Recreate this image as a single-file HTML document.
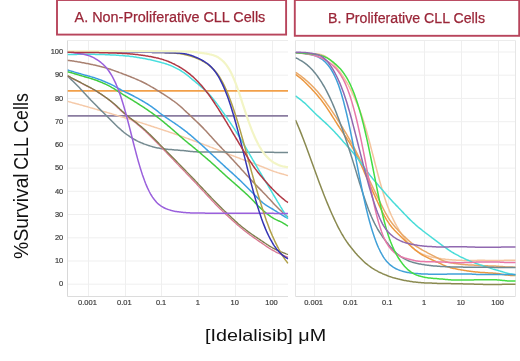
<!DOCTYPE html><html><head><meta charset="utf-8"><style>html,body{margin:0;padding:0;background:#fff;width:520px;height:361px;overflow:hidden}svg{display:block;font-family:"Liberation Sans",sans-serif}</style></head><body>
<svg width="520" height="361" viewBox="0 0 520 361" style="filter:blur(0.4px)">
<defs><clipPath id="cl"><rect x="67.5" y="40.5" width="221.0" height="256.0"/></clipPath><clipPath id="cr"><rect x="295.5" y="40.5" width="220.5" height="256.0"/></clipPath></defs>
<rect x="57.0" y="0" width="229.1" height="34.6" fill="#fff" stroke="#b8455c" stroke-width="1.9"/>
<rect x="294.8" y="0" width="224.4" height="35.8" fill="#fff" stroke="#b8455c" stroke-width="1.9"/>
<text x="74.6" y="21.6" font-size="14" fill="#9a2638" stroke="#9a2638" stroke-width="0.25" textLength="190.7" lengthAdjust="spacingAndGlyphs">A. Non-Proliferative CLL Cells</text>
<text x="328.1" y="23.1" font-size="14" fill="#9a2638" stroke="#9a2638" stroke-width="0.25" textLength="156.9" lengthAdjust="spacingAndGlyphs">B. Proliferative CLL Cells</text>
<line x1="67.5" y1="284.2" x2="288.0" y2="284.2" stroke="#efefef" stroke-width="1"/>
<line x1="67.5" y1="261.0" x2="288.0" y2="261.0" stroke="#efefef" stroke-width="1"/>
<line x1="67.5" y1="237.8" x2="288.0" y2="237.8" stroke="#efefef" stroke-width="1"/>
<line x1="67.5" y1="214.5" x2="288.0" y2="214.5" stroke="#efefef" stroke-width="1"/>
<line x1="67.5" y1="191.3" x2="288.0" y2="191.3" stroke="#efefef" stroke-width="1"/>
<line x1="67.5" y1="168.1" x2="288.0" y2="168.1" stroke="#efefef" stroke-width="1"/>
<line x1="67.5" y1="144.9" x2="288.0" y2="144.9" stroke="#efefef" stroke-width="1"/>
<line x1="67.5" y1="121.7" x2="288.0" y2="121.7" stroke="#efefef" stroke-width="1"/>
<line x1="67.5" y1="98.4" x2="288.0" y2="98.4" stroke="#efefef" stroke-width="1"/>
<line x1="67.5" y1="75.2" x2="288.0" y2="75.2" stroke="#efefef" stroke-width="1"/>
<line x1="67.5" y1="52.0" x2="288.0" y2="52.0" stroke="#efefef" stroke-width="1"/>
<line x1="88.5" y1="40.5" x2="88.5" y2="296.5" stroke="#efefef" stroke-width="1"/>
<line x1="125.5" y1="40.5" x2="125.5" y2="296.5" stroke="#efefef" stroke-width="1"/>
<line x1="161.5" y1="40.5" x2="161.5" y2="296.5" stroke="#efefef" stroke-width="1"/>
<line x1="198.5" y1="40.5" x2="198.5" y2="296.5" stroke="#efefef" stroke-width="1"/>
<line x1="235.5" y1="40.5" x2="235.5" y2="296.5" stroke="#efefef" stroke-width="1"/>
<line x1="272.5" y1="40.5" x2="272.5" y2="296.5" stroke="#efefef" stroke-width="1"/>
<line x1="67.5" y1="40.5" x2="288.0" y2="40.5" stroke="#ececec" stroke-width="1"/>
<line x1="67.5" y1="296.5" x2="288.0" y2="296.5" stroke="#dcdcdc" stroke-width="1"/>
<text x="87.5" y="305.0" font-size="8.1" fill="#3a3a3a" stroke="#3a3a3a" stroke-width="0.2" text-anchor="middle" textLength="18.8" lengthAdjust="spacingAndGlyphs">0.001</text>
<text x="124.3" y="305.0" font-size="8.1" fill="#3a3a3a" stroke="#3a3a3a" stroke-width="0.2" text-anchor="middle" textLength="14.6" lengthAdjust="spacingAndGlyphs">0.01</text>
<text x="161.1" y="305.0" font-size="8.1" fill="#3a3a3a" stroke="#3a3a3a" stroke-width="0.2" text-anchor="middle" textLength="10.4" lengthAdjust="spacingAndGlyphs">0.1</text>
<text x="197.9" y="305.0" font-size="8.1" fill="#3a3a3a" stroke="#3a3a3a" stroke-width="0.2" text-anchor="middle" textLength="4.2" lengthAdjust="spacingAndGlyphs">1</text>
<text x="234.7" y="305.0" font-size="8.1" fill="#3a3a3a" stroke="#3a3a3a" stroke-width="0.2" text-anchor="middle" textLength="8.3" lengthAdjust="spacingAndGlyphs">10</text>
<text x="271.5" y="305.0" font-size="8.1" fill="#3a3a3a" stroke="#3a3a3a" stroke-width="0.2" text-anchor="middle" textLength="12.5" lengthAdjust="spacingAndGlyphs">100</text>
<line x1="295.5" y1="284.2" x2="515.5" y2="284.2" stroke="#efefef" stroke-width="1"/>
<line x1="295.5" y1="261.0" x2="515.5" y2="261.0" stroke="#efefef" stroke-width="1"/>
<line x1="295.5" y1="237.8" x2="515.5" y2="237.8" stroke="#efefef" stroke-width="1"/>
<line x1="295.5" y1="214.5" x2="515.5" y2="214.5" stroke="#efefef" stroke-width="1"/>
<line x1="295.5" y1="191.3" x2="515.5" y2="191.3" stroke="#efefef" stroke-width="1"/>
<line x1="295.5" y1="168.1" x2="515.5" y2="168.1" stroke="#efefef" stroke-width="1"/>
<line x1="295.5" y1="144.9" x2="515.5" y2="144.9" stroke="#efefef" stroke-width="1"/>
<line x1="295.5" y1="121.7" x2="515.5" y2="121.7" stroke="#efefef" stroke-width="1"/>
<line x1="295.5" y1="98.4" x2="515.5" y2="98.4" stroke="#efefef" stroke-width="1"/>
<line x1="295.5" y1="75.2" x2="515.5" y2="75.2" stroke="#efefef" stroke-width="1"/>
<line x1="295.5" y1="52.0" x2="515.5" y2="52.0" stroke="#efefef" stroke-width="1"/>
<line x1="314.5" y1="40.5" x2="314.5" y2="296.5" stroke="#efefef" stroke-width="1"/>
<line x1="351.5" y1="40.5" x2="351.5" y2="296.5" stroke="#efefef" stroke-width="1"/>
<line x1="388.5" y1="40.5" x2="388.5" y2="296.5" stroke="#efefef" stroke-width="1"/>
<line x1="424.5" y1="40.5" x2="424.5" y2="296.5" stroke="#efefef" stroke-width="1"/>
<line x1="461.5" y1="40.5" x2="461.5" y2="296.5" stroke="#efefef" stroke-width="1"/>
<line x1="498.5" y1="40.5" x2="498.5" y2="296.5" stroke="#efefef" stroke-width="1"/>
<line x1="295.5" y1="40.5" x2="515.5" y2="40.5" stroke="#ececec" stroke-width="1"/>
<line x1="295.5" y1="296.5" x2="515.5" y2="296.5" stroke="#dcdcdc" stroke-width="1"/>
<line x1="515.5" y1="40.5" x2="515.5" y2="296.5" stroke="#e6e6e6" stroke-width="1"/>
<text x="313.6" y="305.0" font-size="8.1" fill="#3a3a3a" stroke="#3a3a3a" stroke-width="0.2" text-anchor="middle" textLength="18.8" lengthAdjust="spacingAndGlyphs">0.001</text>
<text x="350.4" y="305.0" font-size="8.1" fill="#3a3a3a" stroke="#3a3a3a" stroke-width="0.2" text-anchor="middle" textLength="14.6" lengthAdjust="spacingAndGlyphs">0.01</text>
<text x="387.2" y="305.0" font-size="8.1" fill="#3a3a3a" stroke="#3a3a3a" stroke-width="0.2" text-anchor="middle" textLength="10.4" lengthAdjust="spacingAndGlyphs">0.1</text>
<text x="424.0" y="305.0" font-size="8.1" fill="#3a3a3a" stroke="#3a3a3a" stroke-width="0.2" text-anchor="middle" textLength="4.2" lengthAdjust="spacingAndGlyphs">1</text>
<text x="460.8" y="305.0" font-size="8.1" fill="#3a3a3a" stroke="#3a3a3a" stroke-width="0.2" text-anchor="middle" textLength="8.3" lengthAdjust="spacingAndGlyphs">10</text>
<text x="497.6" y="305.0" font-size="8.1" fill="#3a3a3a" stroke="#3a3a3a" stroke-width="0.2" text-anchor="middle" textLength="12.5" lengthAdjust="spacingAndGlyphs">100</text>
<line x1="295.5" y1="40.5" x2="295.5" y2="296.5" stroke="#e4e4e4" stroke-width="1"/>
<line x1="67.5" y1="40.5" x2="67.5" y2="296.5" stroke="#d8d8d8" stroke-width="1"/>
<text x="63.2" y="286.4" font-size="8.1" fill="#3a3a3a" stroke="#3a3a3a" stroke-width="0.2" text-anchor="end" textLength="4.2" lengthAdjust="spacingAndGlyphs">0</text>
<text x="63.2" y="263.2" font-size="8.1" fill="#3a3a3a" stroke="#3a3a3a" stroke-width="0.2" text-anchor="end" textLength="8.3" lengthAdjust="spacingAndGlyphs">10</text>
<text x="63.2" y="240.0" font-size="8.1" fill="#3a3a3a" stroke="#3a3a3a" stroke-width="0.2" text-anchor="end" textLength="8.3" lengthAdjust="spacingAndGlyphs">20</text>
<text x="63.2" y="216.7" font-size="8.1" fill="#3a3a3a" stroke="#3a3a3a" stroke-width="0.2" text-anchor="end" textLength="8.3" lengthAdjust="spacingAndGlyphs">30</text>
<text x="63.2" y="193.5" font-size="8.1" fill="#3a3a3a" stroke="#3a3a3a" stroke-width="0.2" text-anchor="end" textLength="8.3" lengthAdjust="spacingAndGlyphs">40</text>
<text x="63.2" y="170.3" font-size="8.1" fill="#3a3a3a" stroke="#3a3a3a" stroke-width="0.2" text-anchor="end" textLength="8.3" lengthAdjust="spacingAndGlyphs">50</text>
<text x="63.2" y="147.1" font-size="8.1" fill="#3a3a3a" stroke="#3a3a3a" stroke-width="0.2" text-anchor="end" textLength="8.3" lengthAdjust="spacingAndGlyphs">60</text>
<text x="63.2" y="123.9" font-size="8.1" fill="#3a3a3a" stroke="#3a3a3a" stroke-width="0.2" text-anchor="end" textLength="8.3" lengthAdjust="spacingAndGlyphs">70</text>
<text x="63.2" y="100.6" font-size="8.1" fill="#3a3a3a" stroke="#3a3a3a" stroke-width="0.2" text-anchor="end" textLength="8.3" lengthAdjust="spacingAndGlyphs">80</text>
<text x="63.2" y="77.4" font-size="8.1" fill="#3a3a3a" stroke="#3a3a3a" stroke-width="0.2" text-anchor="end" textLength="8.3" lengthAdjust="spacingAndGlyphs">90</text>
<text x="63.2" y="54.2" font-size="8.1" fill="#3a3a3a" stroke="#3a3a3a" stroke-width="0.2" text-anchor="end" textLength="12.5" lengthAdjust="spacingAndGlyphs">100</text>
<g clip-path="url(#cl)">
<line x1="67.5" y1="90.8" x2="288.0" y2="90.8" stroke="#f2a04a" stroke-width="1.7"/>
<line x1="67.5" y1="115.9" x2="288.0" y2="115.9" stroke="#8a7ca0" stroke-width="1.7"/>
<path d="M67.5,101.3 L68.5,101.6 L69.5,101.9 L70.5,102.1 L71.5,102.4 L72.5,102.7 L73.5,102.9 L74.5,103.2 L75.5,103.5 L76.5,103.8 L77.5,104.0 L78.5,104.3 L79.5,104.6 L80.5,104.9 L81.5,105.1 L82.5,105.4 L83.5,105.7 L84.5,106.0 L85.5,106.3 L86.5,106.5 L87.5,106.8 L88.5,107.1 L89.5,107.4 L90.5,107.7 L91.5,107.9 L92.5,108.2 L93.5,108.5 L94.5,108.8 L95.5,109.1 L96.5,109.4 L97.5,109.7 L98.5,110.0 L99.5,110.3 L100.5,110.6 L101.5,110.9 L102.5,111.2 L103.5,111.5 L104.5,111.7 L105.5,112.0 L106.5,112.3 L107.5,112.6 L108.5,112.9 L109.5,113.2 L110.5,113.5 L111.5,113.8 L112.5,114.1 L113.5,114.4 L114.5,114.7 L115.5,115.0 L116.5,115.3 L117.5,115.6 L118.5,115.9 L119.5,116.2 L120.5,116.5 L121.5,116.8 L122.5,117.1 L123.5,117.4 L124.5,117.7 L125.5,118.0 L126.5,118.3 L127.5,118.6 L128.5,118.9 L129.5,119.2 L130.5,119.5 L131.5,119.8 L132.5,120.1 L133.5,120.4 L134.5,120.7 L135.5,121.0 L136.5,121.3 L137.5,121.7 L138.5,122.0 L139.5,122.3 L140.5,122.6 L141.5,122.9 L142.5,123.3 L143.5,123.6 L144.5,123.9 L145.5,124.2 L146.5,124.5 L147.5,124.9 L148.5,125.2 L149.5,125.5 L150.5,125.8 L151.5,126.2 L152.5,126.5 L153.5,126.8 L154.5,127.2 L155.5,127.5 L156.5,127.8 L157.5,128.1 L158.5,128.5 L159.5,128.8 L160.5,129.1 L161.5,129.5 L162.5,129.8 L163.5,130.1 L164.5,130.5 L165.5,130.8 L166.5,131.1 L167.5,131.4 L168.5,131.8 L169.5,132.1 L170.5,132.5 L171.5,132.8 L172.5,133.1 L173.5,133.5 L174.5,133.8 L175.5,134.2 L176.5,134.5 L177.5,134.9 L178.5,135.2 L179.5,135.6 L180.5,135.9 L181.5,136.3 L182.5,136.6 L183.5,137.0 L184.5,137.4 L185.5,137.7 L186.5,138.1 L187.5,138.4 L188.5,138.8 L189.5,139.2 L190.5,139.6 L191.5,139.9 L192.5,140.3 L193.5,140.7 L194.5,141.0 L195.5,141.4 L196.5,141.8 L197.5,142.2 L198.5,142.5 L199.5,142.9 L200.5,143.3 L201.5,143.6 L202.5,144.0 L203.5,144.4 L204.5,144.8 L205.5,145.1 L206.5,145.5 L207.5,145.9 L208.5,146.3 L209.5,146.7 L210.5,147.1 L211.5,147.4 L212.5,147.8 L213.5,148.2 L214.5,148.6 L215.5,149.0 L216.5,149.4 L217.5,149.8 L218.5,150.2 L219.5,150.6 L220.5,151.0 L221.5,151.4 L222.5,151.8 L223.5,152.2 L224.5,152.6 L225.5,152.9 L226.5,153.3 L227.5,153.7 L228.5,154.1 L229.5,154.5 L230.5,154.9 L231.5,155.2 L232.5,155.6 L233.5,156.0 L234.5,156.4 L235.5,156.8 L236.5,157.2 L237.5,157.5 L238.5,157.9 L239.5,158.3 L240.5,158.7 L241.5,159.1 L242.5,159.4 L243.5,159.8 L244.5,160.2 L245.5,160.5 L246.5,160.9 L247.5,161.3 L248.5,161.6 L249.5,162.0 L250.5,162.3 L251.5,162.7 L252.5,163.0 L253.5,163.4 L254.5,163.8 L255.5,164.1 L256.5,164.5 L257.5,164.9 L258.5,165.3 L259.5,165.7 L260.5,166.1 L261.5,166.5 L262.5,166.9 L263.5,167.3 L264.5,167.7 L265.5,168.1 L266.5,168.5 L267.5,168.9 L268.5,169.4 L269.5,169.8 L270.5,170.1 L271.5,170.5 L272.5,170.9 L273.5,171.2 L274.5,171.6 L275.5,171.9 L276.5,172.2 L277.5,172.6 L278.5,172.9 L279.5,173.2 L280.5,173.5 L281.5,173.8 L282.5,174.1 L283.5,174.3 L284.5,174.6 L285.5,174.9 L286.5,175.2 L287.5,175.4 L288.0,175.6" fill="none" stroke="#f5c9a8" stroke-width="1.5" stroke-linejoin="round"/>
<path d="M67.5,60.3 L68.5,60.4 L69.5,60.5 L70.5,60.7 L71.5,60.8 L72.5,61.0 L73.5,61.1 L74.5,61.3 L75.5,61.4 L76.5,61.6 L77.5,61.8 L78.5,61.9 L79.5,62.1 L80.5,62.3 L81.5,62.5 L82.5,62.7 L83.5,62.8 L84.5,63.0 L85.5,63.2 L86.5,63.4 L87.5,63.6 L88.5,63.8 L89.5,64.0 L90.5,64.2 L91.5,64.4 L92.5,64.6 L93.5,64.9 L94.5,65.1 L95.5,65.3 L96.5,65.5 L97.5,65.8 L98.5,66.0 L99.5,66.2 L100.5,66.5 L101.5,66.7 L102.5,67.0 L103.5,67.2 L104.5,67.5 L105.5,67.8 L106.5,68.1 L107.5,68.4 L108.5,68.7 L109.5,69.0 L110.5,69.3 L111.5,69.7 L112.5,70.0 L113.5,70.4 L114.5,70.7 L115.5,71.1 L116.5,71.5 L117.5,71.8 L118.5,72.2 L119.5,72.6 L120.5,72.9 L121.5,73.3 L122.5,73.7 L123.5,74.1 L124.5,74.5 L125.5,74.8 L126.5,75.2 L127.5,75.6 L128.5,76.0 L129.5,76.4 L130.5,76.8 L131.5,77.2 L132.5,77.6 L133.5,78.0 L134.5,78.4 L135.5,78.9 L136.5,79.3 L137.5,79.7 L138.5,80.1 L139.5,80.6 L140.5,81.0 L141.5,81.5 L142.5,82.0 L143.5,82.5 L144.5,83.0 L145.5,83.5 L146.5,84.0 L147.5,84.6 L148.5,85.1 L149.5,85.7 L150.5,86.3 L151.5,86.9 L152.5,87.4 L153.5,88.0 L154.5,88.6 L155.5,89.2 L156.5,89.9 L157.5,90.5 L158.5,91.1 L159.5,91.7 L160.5,92.4 L161.5,93.0 L162.5,93.6 L163.5,94.2 L164.5,94.9 L165.5,95.5 L166.5,96.2 L167.5,96.8 L168.5,97.5 L169.5,98.2 L170.5,98.9 L171.5,99.6 L172.5,100.3 L173.5,101.0 L174.5,101.7 L175.5,102.5 L176.5,103.2 L177.5,104.0 L178.5,104.8 L179.5,105.7 L180.5,106.5 L181.5,107.4 L182.5,108.3 L183.5,109.2 L184.5,110.2 L185.5,111.1 L186.5,112.1 L187.5,113.0 L188.5,113.9 L189.5,114.9 L190.5,115.8 L191.5,116.7 L192.5,117.7 L193.5,118.6 L194.5,119.6 L195.5,120.5 L196.5,121.5 L197.5,122.4 L198.5,123.4 L199.5,124.4 L200.5,125.4 L201.5,126.4 L202.5,127.4 L203.5,128.4 L204.5,129.5 L205.5,130.5 L206.5,131.6 L207.5,132.7 L208.5,133.8 L209.5,134.9 L210.5,136.0 L211.5,137.1 L212.5,138.2 L213.5,139.3 L214.5,140.4 L215.5,141.5 L216.5,142.6 L217.5,143.7 L218.5,144.8 L219.5,145.8 L220.5,146.9 L221.5,147.9 L222.5,149.0 L223.5,150.0 L224.5,151.1 L225.5,152.1 L226.5,153.2 L227.5,154.2 L228.5,155.3 L229.5,156.3 L230.5,157.4 L231.5,158.4 L232.5,159.5 L233.5,160.6 L234.5,161.7 L235.5,162.7 L236.5,163.8 L237.5,164.9 L238.5,166.0 L239.5,167.1 L240.5,168.2 L241.5,169.4 L242.5,170.5 L243.5,171.6 L244.5,172.7 L245.5,173.8 L246.5,174.9 L247.5,176.0 L248.5,177.1 L249.5,178.2 L250.5,179.3 L251.5,180.3 L252.5,181.4 L253.5,182.4 L254.5,183.5 L255.5,184.5 L256.5,185.5 L257.5,186.6 L258.5,187.6 L259.5,188.6 L260.5,189.6 L261.5,190.6 L262.5,191.7 L263.5,192.7 L264.5,193.7 L265.5,194.8 L266.5,195.8 L267.5,196.9 L268.5,198.0 L269.5,199.0 L270.5,200.1 L271.5,201.2 L272.5,202.3 L273.5,203.4 L274.5,204.5 L275.5,205.5 L276.5,206.5 L277.5,207.5 L278.5,208.5 L279.5,209.5 L280.5,210.4 L281.5,211.3 L282.5,212.2 L283.5,213.1 L284.5,214.0 L285.5,214.9 L286.5,215.8 L287.5,216.6 L288.0,217.0" fill="none" stroke="#a88070" stroke-width="1.5" stroke-linejoin="round"/>
<path d="M67.5,76.1 L68.5,77.0 L69.5,78.0 L70.5,78.9 L71.5,79.9 L72.5,80.8 L73.5,81.8 L74.5,82.8 L75.5,83.8 L76.5,84.8 L77.5,85.8 L78.5,86.8 L79.5,87.8 L80.5,88.9 L81.5,90.0 L82.5,91.1 L83.5,92.2 L84.5,93.3 L85.5,94.3 L86.5,95.4 L87.5,96.5 L88.5,97.6 L89.5,98.6 L90.5,99.7 L91.5,100.7 L92.5,101.7 L93.5,102.8 L94.5,103.8 L95.5,104.8 L96.5,105.8 L97.5,106.8 L98.5,107.9 L99.5,108.9 L100.5,109.9 L101.5,110.9 L102.5,111.8 L103.5,112.8 L104.5,113.8 L105.5,114.8 L106.5,115.8 L107.5,116.8 L108.5,117.8 L109.5,118.8 L110.5,119.8 L111.5,120.8 L112.5,121.8 L113.5,122.8 L114.5,123.8 L115.5,124.8 L116.5,125.7 L117.5,126.7 L118.5,127.6 L119.5,128.5 L120.5,129.4 L121.5,130.3 L122.5,131.1 L123.5,132.0 L124.5,132.8 L125.5,133.5 L126.5,134.3 L127.5,135.0 L128.5,135.7 L129.5,136.4 L130.5,137.1 L131.5,137.7 L132.5,138.3 L133.5,138.9 L134.5,139.5 L135.5,140.0 L136.5,140.6 L137.5,141.1 L138.5,141.6 L139.5,142.0 L140.5,142.5 L141.5,142.9 L142.5,143.3 L143.5,143.7 L144.5,144.1 L145.5,144.4 L146.5,144.8 L147.5,145.1 L148.5,145.5 L149.5,145.8 L150.5,146.1 L151.5,146.4 L152.5,146.7 L153.5,147.0 L154.5,147.2 L155.5,147.5 L156.5,147.7 L157.5,147.9 L158.5,148.1 L159.5,148.3 L160.5,148.5 L161.5,148.7 L162.5,148.8 L163.5,148.9 L164.5,149.0 L165.5,149.1 L166.5,149.2 L167.5,149.3 L168.5,149.4 L169.5,149.5 L170.5,149.6 L171.5,149.6 L172.5,149.7 L173.5,149.8 L174.5,149.9 L175.5,150.0 L176.5,150.1 L177.5,150.1 L178.5,150.2 L179.5,150.3 L180.5,150.4 L181.5,150.5 L182.5,150.6 L183.5,150.6 L184.5,150.7 L185.5,150.8 L186.5,151.0 L187.5,151.1 L188.5,151.2 L189.5,151.3 L190.5,151.4 L191.5,151.5 L192.5,151.6 L193.5,151.7 L194.5,151.7 L195.5,151.8 L196.5,151.8 L197.5,151.9 L198.5,151.9 L199.5,151.9 L200.5,152.0 L201.5,152.0 L202.5,152.0 L203.5,152.0 L204.5,152.0 L205.5,152.1 L206.5,152.1 L207.5,152.1 L208.5,152.1 L209.5,152.1 L210.5,152.1 L211.5,152.1 L212.5,152.1 L213.5,152.1 L214.5,152.1 L215.5,152.1 L216.5,152.1 L217.5,152.1 L218.5,152.1 L219.5,152.1 L220.5,152.1 L221.5,152.1 L222.5,152.1 L223.5,152.1 L224.5,152.1 L225.5,152.1 L226.5,152.1 L227.5,152.2 L228.5,152.2 L229.5,152.2 L230.5,152.2 L231.5,152.2 L232.5,152.2 L233.5,152.2 L234.5,152.2 L235.5,152.2 L236.5,152.2 L237.5,152.2 L238.5,152.2 L239.5,152.2 L240.5,152.2 L241.5,152.2 L242.5,152.2 L243.5,152.2 L244.5,152.2 L245.5,152.2 L246.5,152.2 L247.5,152.2 L248.5,152.2 L249.5,152.2 L250.5,152.2 L251.5,152.2 L252.5,152.2 L253.5,152.2 L254.5,152.2 L255.5,152.2 L256.5,152.2 L257.5,152.2 L258.5,152.2 L259.5,152.2 L260.5,152.2 L261.5,152.2 L262.5,152.2 L263.5,152.2 L264.5,152.2 L265.5,152.2 L266.5,152.2 L267.5,152.3 L268.5,152.3 L269.5,152.3 L270.5,152.3 L271.5,152.3 L272.5,152.3 L273.5,152.3 L274.5,152.4 L275.5,152.4 L276.5,152.4 L277.5,152.4 L278.5,152.4 L279.5,152.5 L280.5,152.5 L281.5,152.5 L282.5,152.5 L283.5,152.5 L284.5,152.5 L285.5,152.5 L286.5,152.5 L287.5,152.5 L288.0,152.5" fill="none" stroke="#748a90" stroke-width="1.5" stroke-linejoin="round"/>
<path d="M67.5,76.1 L68.5,76.6 L69.5,77.0 L70.5,77.5 L71.5,78.1 L72.5,78.6 L73.5,79.1 L74.5,79.6 L75.5,80.1 L76.5,80.6 L77.5,81.1 L78.5,81.7 L79.5,82.2 L80.5,82.7 L81.5,83.2 L82.5,83.8 L83.5,84.3 L84.5,84.8 L85.5,85.4 L86.5,85.9 L87.5,86.4 L88.5,86.9 L89.5,87.5 L90.5,88.0 L91.5,88.5 L92.5,89.0 L93.5,89.6 L94.5,90.2 L95.5,90.7 L96.5,91.3 L97.5,91.9 L98.5,92.6 L99.5,93.2 L100.5,93.9 L101.5,94.5 L102.5,95.2 L103.5,95.9 L104.5,96.6 L105.5,97.3 L106.5,98.0 L107.5,98.7 L108.5,99.5 L109.5,100.3 L110.5,101.1 L111.5,101.9 L112.5,102.8 L113.5,103.7 L114.5,104.6 L115.5,105.5 L116.5,106.5 L117.5,107.5 L118.5,108.4 L119.5,109.4 L120.5,110.3 L121.5,111.2 L122.5,112.1 L123.5,112.9 L124.5,113.8 L125.5,114.6 L126.5,115.5 L127.5,116.3 L128.5,117.1 L129.5,117.9 L130.5,118.8 L131.5,119.6 L132.5,120.4 L133.5,121.2 L134.5,122.0 L135.5,122.8 L136.5,123.6 L137.5,124.4 L138.5,125.2 L139.5,126.0 L140.5,126.9 L141.5,127.7 L142.5,128.6 L143.5,129.5 L144.5,130.4 L145.5,131.4 L146.5,132.3 L147.5,133.2 L148.5,134.2 L149.5,135.2 L150.5,136.2 L151.5,137.2 L152.5,138.2 L153.5,139.2 L154.5,140.2 L155.5,141.3 L156.5,142.3 L157.5,143.3 L158.5,144.4 L159.5,145.4 L160.5,146.4 L161.5,147.4 L162.5,148.5 L163.5,149.5 L164.5,150.5 L165.5,151.6 L166.5,152.6 L167.5,153.7 L168.5,154.7 L169.5,155.7 L170.5,156.8 L171.5,157.8 L172.5,158.9 L173.5,159.9 L174.5,161.0 L175.5,162.0 L176.5,163.0 L177.5,164.1 L178.5,165.1 L179.5,166.2 L180.5,167.2 L181.5,168.3 L182.5,169.3 L183.5,170.3 L184.5,171.4 L185.5,172.4 L186.5,173.5 L187.5,174.5 L188.5,175.5 L189.5,176.6 L190.5,177.6 L191.5,178.7 L192.5,179.7 L193.5,180.8 L194.5,181.8 L195.5,182.9 L196.5,183.9 L197.5,185.0 L198.5,186.1 L199.5,187.1 L200.5,188.2 L201.5,189.2 L202.5,190.3 L203.5,191.4 L204.5,192.4 L205.5,193.5 L206.5,194.6 L207.5,195.7 L208.5,196.8 L209.5,197.8 L210.5,198.9 L211.5,200.0 L212.5,201.1 L213.5,202.1 L214.5,203.1 L215.5,204.2 L216.5,205.2 L217.5,206.2 L218.5,207.2 L219.5,208.2 L220.5,209.2 L221.5,210.1 L222.5,211.1 L223.5,212.1 L224.5,213.0 L225.5,214.0 L226.5,214.9 L227.5,215.8 L228.5,216.8 L229.5,217.7 L230.5,218.6 L231.5,219.5 L232.5,220.4 L233.5,221.3 L234.5,222.2 L235.5,223.1 L236.5,224.0 L237.5,224.9 L238.5,225.8 L239.5,226.6 L240.5,227.5 L241.5,228.3 L242.5,229.1 L243.5,229.9 L244.5,230.7 L245.5,231.5 L246.5,232.3 L247.5,233.1 L248.5,233.8 L249.5,234.6 L250.5,235.3 L251.5,236.0 L252.5,236.7 L253.5,237.4 L254.5,238.1 L255.5,238.8 L256.5,239.5 L257.5,240.2 L258.5,240.9 L259.5,241.6 L260.5,242.3 L261.5,242.9 L262.5,243.6 L263.5,244.3 L264.5,245.0 L265.5,245.7 L266.5,246.4 L267.5,247.1 L268.5,247.7 L269.5,248.4 L270.5,249.0 L271.5,249.6 L272.5,250.1 L273.5,250.7 L274.5,251.2 L275.5,251.8 L276.5,252.3 L277.5,252.8 L278.5,253.2 L279.5,253.7 L280.5,254.1 L281.5,254.6 L282.5,255.0 L283.5,255.4 L284.5,255.9 L285.5,256.3 L286.5,256.7 L287.5,257.1 L288.0,257.3" fill="none" stroke="#d87890" stroke-width="1.3" stroke-linejoin="round"/>
<path d="M67.5,75.7 L68.5,76.2 L69.5,76.7 L70.5,77.2 L71.5,77.8 L72.5,78.3 L73.5,78.8 L74.5,79.3 L75.5,79.8 L76.5,80.3 L77.5,80.9 L78.5,81.4 L79.5,81.9 L80.5,82.4 L81.5,83.0 L82.5,83.5 L83.5,84.0 L84.5,84.5 L85.5,85.1 L86.5,85.6 L87.5,86.1 L88.5,86.6 L89.5,87.2 L90.5,87.7 L91.5,88.2 L92.5,88.8 L93.5,89.4 L94.5,89.9 L95.5,90.5 L96.5,91.1 L97.5,91.8 L98.5,92.4 L99.5,93.1 L100.5,93.7 L101.5,94.4 L102.5,95.1 L103.5,95.8 L104.5,96.5 L105.5,97.2 L106.5,97.9 L107.5,98.6 L108.5,99.4 L109.5,100.1 L110.5,100.9 L111.5,101.6 L112.5,102.4 L113.5,103.2 L114.5,104.1 L115.5,104.9 L116.5,105.8 L117.5,106.7 L118.5,107.7 L119.5,108.6 L120.5,109.6 L121.5,110.5 L122.5,111.4 L123.5,112.3 L124.5,113.2 L125.5,114.1 L126.5,114.9 L127.5,115.7 L128.5,116.5 L129.5,117.4 L130.5,118.2 L131.5,118.9 L132.5,119.7 L133.5,120.5 L134.5,121.3 L135.5,122.0 L136.5,122.8 L137.5,123.6 L138.5,124.4 L139.5,125.2 L140.5,126.0 L141.5,126.8 L142.5,127.7 L143.5,128.5 L144.5,129.4 L145.5,130.3 L146.5,131.2 L147.5,132.2 L148.5,133.1 L149.5,134.1 L150.5,135.0 L151.5,136.0 L152.5,137.0 L153.5,138.0 L154.5,139.0 L155.5,140.0 L156.5,141.0 L157.5,142.0 L158.5,143.0 L159.5,144.1 L160.5,145.1 L161.5,146.1 L162.5,147.1 L163.5,148.1 L164.5,149.1 L165.5,150.1 L166.5,151.1 L167.5,152.2 L168.5,153.2 L169.5,154.2 L170.5,155.2 L171.5,156.2 L172.5,157.3 L173.5,158.3 L174.5,159.3 L175.5,160.3 L176.5,161.3 L177.5,162.4 L178.5,163.4 L179.5,164.4 L180.5,165.4 L181.5,166.5 L182.5,167.5 L183.5,168.5 L184.5,169.5 L185.5,170.5 L186.5,171.6 L187.5,172.6 L188.5,173.6 L189.5,174.6 L190.5,175.7 L191.5,176.7 L192.5,177.8 L193.5,178.8 L194.5,179.8 L195.5,180.9 L196.5,181.9 L197.5,183.0 L198.5,184.1 L199.5,185.1 L200.5,186.2 L201.5,187.2 L202.5,188.3 L203.5,189.4 L204.5,190.4 L205.5,191.5 L206.5,192.6 L207.5,193.6 L208.5,194.7 L209.5,195.8 L210.5,196.8 L211.5,197.9 L212.5,198.9 L213.5,200.0 L214.5,201.0 L215.5,202.0 L216.5,203.0 L217.5,204.0 L218.5,205.0 L219.5,206.0 L220.5,207.0 L221.5,208.0 L222.5,209.0 L223.5,209.9 L224.5,210.9 L225.5,211.8 L226.5,212.8 L227.5,213.7 L228.5,214.7 L229.5,215.6 L230.5,216.5 L231.5,217.5 L232.5,218.4 L233.5,219.3 L234.5,220.2 L235.5,221.2 L236.5,222.1 L237.5,223.0 L238.5,223.9 L239.5,224.7 L240.5,225.6 L241.5,226.4 L242.5,227.2 L243.5,228.0 L244.5,228.8 L245.5,229.6 L246.5,230.4 L247.5,231.1 L248.5,231.9 L249.5,232.6 L250.5,233.3 L251.5,234.0 L252.5,234.7 L253.5,235.4 L254.5,236.1 L255.5,236.8 L256.5,237.4 L257.5,238.1 L258.5,238.8 L259.5,239.4 L260.5,240.1 L261.5,240.8 L262.5,241.4 L263.5,242.1 L264.5,242.8 L265.5,243.5 L266.5,244.1 L267.5,244.8 L268.5,245.4 L269.5,246.1 L270.5,246.6 L271.5,247.2 L272.5,247.8 L273.5,248.3 L274.5,248.8 L275.5,249.3 L276.5,249.8 L277.5,250.3 L278.5,250.7 L279.5,251.1 L280.5,251.6 L281.5,252.0 L282.5,252.4 L283.5,252.8 L284.5,253.2 L285.5,253.6 L286.5,254.0 L287.5,254.3 L288.0,254.5" fill="none" stroke="#7e7a4a" stroke-width="1.3" stroke-linejoin="round"/>
<path d="M67.5,70.0 L68.5,70.3 L69.5,70.6 L70.5,70.9 L71.5,71.2 L72.5,71.5 L73.5,71.8 L74.5,72.1 L75.5,72.4 L76.5,72.7 L77.5,73.0 L78.5,73.3 L79.5,73.6 L80.5,73.8 L81.5,74.1 L82.5,74.4 L83.5,74.7 L84.5,75.0 L85.5,75.2 L86.5,75.5 L87.5,75.8 L88.5,76.1 L89.5,76.3 L90.5,76.6 L91.5,76.9 L92.5,77.2 L93.5,77.5 L94.5,77.8 L95.5,78.1 L96.5,78.5 L97.5,78.8 L98.5,79.2 L99.5,79.5 L100.5,79.9 L101.5,80.3 L102.5,80.7 L103.5,81.1 L104.5,81.5 L105.5,82.0 L106.5,82.4 L107.5,82.8 L108.5,83.3 L109.5,83.7 L110.5,84.2 L111.5,84.7 L112.5,85.2 L113.5,85.7 L114.5,86.2 L115.5,86.8 L116.5,87.3 L117.5,87.9 L118.5,88.4 L119.5,89.0 L120.5,89.5 L121.5,90.1 L122.5,90.6 L123.5,91.1 L124.5,91.6 L125.5,92.1 L126.5,92.6 L127.5,93.0 L128.5,93.5 L129.5,94.0 L130.5,94.5 L131.5,95.0 L132.5,95.5 L133.5,96.0 L134.5,96.6 L135.5,97.1 L136.5,97.6 L137.5,98.2 L138.5,98.7 L139.5,99.3 L140.5,99.8 L141.5,100.4 L142.5,101.0 L143.5,101.6 L144.5,102.2 L145.5,102.8 L146.5,103.4 L147.5,104.0 L148.5,104.6 L149.5,105.3 L150.5,106.0 L151.5,106.6 L152.5,107.3 L153.5,108.1 L154.5,108.8 L155.5,109.6 L156.5,110.4 L157.5,111.2 L158.5,112.0 L159.5,112.8 L160.5,113.5 L161.5,114.3 L162.5,115.0 L163.5,115.7 L164.5,116.4 L165.5,117.1 L166.5,117.8 L167.5,118.5 L168.5,119.1 L169.5,119.8 L170.5,120.5 L171.5,121.2 L172.5,121.8 L173.5,122.5 L174.5,123.2 L175.5,123.9 L176.5,124.6 L177.5,125.2 L178.5,126.0 L179.5,126.7 L180.5,127.4 L181.5,128.1 L182.5,128.9 L183.5,129.6 L184.5,130.4 L185.5,131.2 L186.5,131.9 L187.5,132.7 L188.5,133.6 L189.5,134.4 L190.5,135.2 L191.5,136.0 L192.5,136.9 L193.5,137.7 L194.5,138.6 L195.5,139.5 L196.5,140.3 L197.5,141.2 L198.5,142.1 L199.5,143.0 L200.5,143.9 L201.5,144.8 L202.5,145.7 L203.5,146.6 L204.5,147.5 L205.5,148.5 L206.5,149.4 L207.5,150.4 L208.5,151.3 L209.5,152.2 L210.5,153.2 L211.5,154.1 L212.5,155.0 L213.5,156.0 L214.5,156.9 L215.5,157.8 L216.5,158.8 L217.5,159.7 L218.5,160.6 L219.5,161.5 L220.5,162.5 L221.5,163.4 L222.5,164.3 L223.5,165.2 L224.5,166.1 L225.5,167.1 L226.5,168.0 L227.5,168.9 L228.5,169.8 L229.5,170.7 L230.5,171.6 L231.5,172.4 L232.5,173.4 L233.5,174.3 L234.5,175.2 L235.5,176.1 L236.5,177.0 L237.5,178.0 L238.5,178.9 L239.5,179.9 L240.5,180.8 L241.5,181.8 L242.5,182.8 L243.5,183.7 L244.5,184.7 L245.5,185.7 L246.5,186.7 L247.5,187.7 L248.5,188.7 L249.5,189.7 L250.5,190.7 L251.5,191.8 L252.5,192.8 L253.5,193.8 L254.5,194.9 L255.5,195.9 L256.5,196.9 L257.5,197.9 L258.5,198.9 L259.5,199.8 L260.5,200.7 L261.5,201.6 L262.5,202.5 L263.5,203.3 L264.5,204.0 L265.5,204.8 L266.5,205.4 L267.5,206.1 L268.5,206.7 L269.5,207.3 L270.5,207.9 L271.5,208.5 L272.5,209.0 L273.5,209.6 L274.5,210.3 L275.5,210.9 L276.5,211.5 L277.5,212.2 L278.5,212.8 L279.5,213.4 L280.5,214.0 L281.5,214.7 L282.5,215.3 L283.5,215.9 L284.5,216.5 L285.5,217.1 L286.5,217.6 L287.5,218.2 L288.0,218.5" fill="none" stroke="#3c9ee0" stroke-width="1.5" stroke-linejoin="round"/>
<path d="M67.5,71.7 L68.5,72.0 L69.5,72.3 L70.5,72.5 L71.5,72.8 L72.5,73.1 L73.5,73.4 L74.5,73.7 L75.5,74.0 L76.5,74.3 L77.5,74.6 L78.5,74.9 L79.5,75.2 L80.5,75.5 L81.5,75.8 L82.5,76.1 L83.5,76.4 L84.5,76.7 L85.5,77.0 L86.5,77.3 L87.5,77.6 L88.5,77.8 L89.5,78.1 L90.5,78.4 L91.5,78.7 L92.5,79.0 L93.5,79.4 L94.5,79.7 L95.5,80.0 L96.5,80.4 L97.5,80.8 L98.5,81.2 L99.5,81.6 L100.5,82.0 L101.5,82.4 L102.5,82.8 L103.5,83.3 L104.5,83.7 L105.5,84.2 L106.5,84.7 L107.5,85.2 L108.5,85.7 L109.5,86.2 L110.5,86.7 L111.5,87.3 L112.5,87.9 L113.5,88.4 L114.5,89.0 L115.5,89.7 L116.5,90.3 L117.5,91.0 L118.5,91.6 L119.5,92.3 L120.5,92.9 L121.5,93.5 L122.5,94.2 L123.5,94.8 L124.5,95.4 L125.5,96.0 L126.5,96.6 L127.5,97.2 L128.5,97.8 L129.5,98.4 L130.5,99.0 L131.5,99.6 L132.5,100.2 L133.5,100.8 L134.5,101.5 L135.5,102.1 L136.5,102.7 L137.5,103.4 L138.5,104.0 L139.5,104.6 L140.5,105.3 L141.5,105.9 L142.5,106.6 L143.5,107.2 L144.5,107.9 L145.5,108.6 L146.5,109.2 L147.5,109.9 L148.5,110.6 L149.5,111.3 L150.5,112.0 L151.5,112.7 L152.5,113.4 L153.5,114.2 L154.5,114.9 L155.5,115.7 L156.5,116.4 L157.5,117.2 L158.5,118.0 L159.5,118.7 L160.5,119.5 L161.5,120.3 L162.5,121.1 L163.5,121.9 L164.5,122.8 L165.5,123.6 L166.5,124.4 L167.5,125.3 L168.5,126.1 L169.5,126.9 L170.5,127.8 L171.5,128.7 L172.5,129.5 L173.5,130.4 L174.5,131.3 L175.5,132.2 L176.5,133.0 L177.5,133.9 L178.5,134.8 L179.5,135.7 L180.5,136.6 L181.5,137.4 L182.5,138.3 L183.5,139.1 L184.5,140.0 L185.5,140.8 L186.5,141.7 L187.5,142.5 L188.5,143.3 L189.5,144.1 L190.5,144.9 L191.5,145.7 L192.5,146.5 L193.5,147.3 L194.5,148.1 L195.5,149.0 L196.5,149.8 L197.5,150.6 L198.5,151.5 L199.5,152.4 L200.5,153.2 L201.5,154.1 L202.5,155.0 L203.5,155.8 L204.5,156.7 L205.5,157.5 L206.5,158.4 L207.5,159.2 L208.5,160.1 L209.5,160.9 L210.5,161.8 L211.5,162.7 L212.5,163.6 L213.5,164.5 L214.5,165.4 L215.5,166.3 L216.5,167.2 L217.5,168.1 L218.5,169.0 L219.5,170.0 L220.5,170.9 L221.5,171.8 L222.5,172.7 L223.5,173.6 L224.5,174.5 L225.5,175.5 L226.5,176.4 L227.5,177.3 L228.5,178.1 L229.5,179.0 L230.5,179.9 L231.5,180.8 L232.5,181.7 L233.5,182.5 L234.5,183.4 L235.5,184.3 L236.5,185.1 L237.5,186.0 L238.5,186.9 L239.5,187.8 L240.5,188.7 L241.5,189.6 L242.5,190.5 L243.5,191.4 L244.5,192.3 L245.5,193.2 L246.5,194.1 L247.5,195.0 L248.5,196.0 L249.5,197.0 L250.5,198.0 L251.5,199.0 L252.5,200.0 L253.5,201.0 L254.5,202.1 L255.5,203.1 L256.5,204.1 L257.5,205.2 L258.5,206.2 L259.5,207.1 L260.5,208.1 L261.5,209.0 L262.5,209.9 L263.5,210.8 L264.5,211.7 L265.5,212.5 L266.5,213.3 L267.5,214.1 L268.5,214.9 L269.5,215.6 L270.5,216.4 L271.5,217.1 L272.5,217.7 L273.5,218.3 L274.5,218.9 L275.5,219.4 L276.5,219.9 L277.5,220.3 L278.5,220.8 L279.5,221.2 L280.5,221.7 L281.5,222.2 L282.5,222.7 L283.5,223.3 L284.5,223.9 L285.5,224.5 L286.5,225.2 L287.5,225.8 L288.0,226.2" fill="none" stroke="#40cc40" stroke-width="1.5" stroke-linejoin="round"/>
<path d="M67.5,54.4 L68.5,54.4 L69.5,54.4 L70.5,54.4 L71.5,54.4 L72.5,54.4 L73.5,54.4 L74.5,54.4 L75.5,54.4 L76.5,54.4 L77.5,54.3 L78.5,54.3 L79.5,54.3 L80.5,54.3 L81.5,54.3 L82.5,54.2 L83.5,54.2 L84.5,54.2 L85.5,54.2 L86.5,54.2 L87.5,54.2 L88.5,54.2 L89.5,54.2 L90.5,54.3 L91.5,54.3 L92.5,54.3 L93.5,54.3 L94.5,54.3 L95.5,54.4 L96.5,54.4 L97.5,54.4 L98.5,54.4 L99.5,54.5 L100.5,54.5 L101.5,54.5 L102.5,54.6 L103.5,54.6 L104.5,54.6 L105.5,54.7 L106.5,54.7 L107.5,54.8 L108.5,54.8 L109.5,54.8 L110.5,54.9 L111.5,54.9 L112.5,55.0 L113.5,55.0 L114.5,55.1 L115.5,55.1 L116.5,55.2 L117.5,55.3 L118.5,55.3 L119.5,55.4 L120.5,55.5 L121.5,55.5 L122.5,55.6 L123.5,55.7 L124.5,55.8 L125.5,55.9 L126.5,56.0 L127.5,56.0 L128.5,56.1 L129.5,56.3 L130.5,56.4 L131.5,56.5 L132.5,56.6 L133.5,56.7 L134.5,56.9 L135.5,57.0 L136.5,57.2 L137.5,57.4 L138.5,57.5 L139.5,57.7 L140.5,57.9 L141.5,58.0 L142.5,58.2 L143.5,58.4 L144.5,58.6 L145.5,58.8 L146.5,59.0 L147.5,59.2 L148.5,59.4 L149.5,59.6 L150.5,59.8 L151.5,60.0 L152.5,60.3 L153.5,60.5 L154.5,60.8 L155.5,61.0 L156.5,61.3 L157.5,61.5 L158.5,61.8 L159.5,62.0 L160.5,62.3 L161.5,62.6 L162.5,62.9 L163.5,63.1 L164.5,63.4 L165.5,63.7 L166.5,64.0 L167.5,64.4 L168.5,64.7 L169.5,65.1 L170.5,65.5 L171.5,65.9 L172.5,66.4 L173.5,66.8 L174.5,67.3 L175.5,67.8 L176.5,68.3 L177.5,68.8 L178.5,69.4 L179.5,69.9 L180.5,70.5 L181.5,71.1 L182.5,71.8 L183.5,72.4 L184.5,73.1 L185.5,73.8 L186.5,74.6 L187.5,75.4 L188.5,76.2 L189.5,77.0 L190.5,77.9 L191.5,78.7 L192.5,79.6 L193.5,80.4 L194.5,81.2 L195.5,82.0 L196.5,82.9 L197.5,83.7 L198.5,84.5 L199.5,85.4 L200.5,86.2 L201.5,87.1 L202.5,87.9 L203.5,88.8 L204.5,89.8 L205.5,90.7 L206.5,91.7 L207.5,92.7 L208.5,93.7 L209.5,94.7 L210.5,95.8 L211.5,97.0 L212.5,98.1 L213.5,99.4 L214.5,100.6 L215.5,101.9 L216.5,103.3 L217.5,104.6 L218.5,106.0 L219.5,107.4 L220.5,108.8 L221.5,110.2 L222.5,111.6 L223.5,113.0 L224.5,114.4 L225.5,115.8 L226.5,117.2 L227.5,118.7 L228.5,120.1 L229.5,121.6 L230.5,123.1 L231.5,124.6 L232.5,126.1 L233.5,127.7 L234.5,129.2 L235.5,130.8 L236.5,132.4 L237.5,134.0 L238.5,135.6 L239.5,137.2 L240.5,138.8 L241.5,140.5 L242.5,142.2 L243.5,143.8 L244.5,145.5 L245.5,147.2 L246.5,148.9 L247.5,150.6 L248.5,152.4 L249.5,154.1 L250.5,155.8 L251.5,157.5 L252.5,159.3 L253.5,161.0 L254.5,162.7 L255.5,164.5 L256.5,166.2 L257.5,167.9 L258.5,169.6 L259.5,171.3 L260.5,173.0 L261.5,174.7 L262.5,176.4 L263.5,178.0 L264.5,179.7 L265.5,181.4 L266.5,183.0 L267.5,184.7 L268.5,186.4 L269.5,188.0 L270.5,189.7 L271.5,191.4 L272.5,193.1 L273.5,194.8 L274.5,196.5 L275.5,198.2 L276.5,199.9 L277.5,201.6 L278.5,203.2 L279.5,204.9 L280.5,206.6 L281.5,208.2 L282.5,209.9 L283.5,211.5 L284.5,213.1 L285.5,214.7 L286.5,216.3 L287.5,217.9 L288.0,218.7" fill="none" stroke="#48dede" stroke-width="1.5" stroke-linejoin="round"/>
<path d="M67.5,52.1 L68.5,52.2 L69.5,52.3 L70.5,52.3 L71.5,52.4 L72.5,52.6 L73.5,52.7 L74.5,52.8 L75.5,52.9 L76.5,53.1 L77.5,53.2 L78.5,53.4 L79.5,53.5 L80.5,53.7 L81.5,53.9 L82.5,54.1 L83.5,54.3 L84.5,54.5 L85.5,54.7 L86.5,55.0 L87.5,55.3 L88.5,55.6 L89.5,55.9 L90.5,56.3 L91.5,56.7 L92.5,57.2 L93.5,57.7 L94.5,58.2 L95.5,58.8 L96.5,59.4 L97.5,60.0 L98.5,60.7 L99.5,61.4 L100.5,62.2 L101.5,63.0 L102.5,63.8 L103.5,64.8 L104.5,65.8 L105.5,66.8 L106.5,68.0 L107.5,69.2 L108.5,70.5 L109.5,72.0 L110.5,73.5 L111.5,75.1 L112.5,76.9 L113.5,78.8 L114.5,80.8 L115.5,82.9 L116.5,85.2 L117.5,87.7 L118.5,90.2 L119.5,93.0 L120.5,95.8 L121.5,98.8 L122.5,102.0 L123.5,105.3 L124.5,108.7 L125.5,112.3 L126.5,115.9 L127.5,119.7 L128.5,123.5 L129.5,127.4 L130.5,131.3 L131.5,135.3 L132.5,139.2 L133.5,143.2 L134.5,147.1 L135.5,150.9 L136.5,154.7 L137.5,158.4 L138.5,162.0 L139.5,165.4 L140.5,168.7 L141.5,171.9 L142.5,175.0 L143.5,177.8 L144.5,180.6 L145.5,183.2 L146.5,185.6 L147.5,187.9 L148.5,190.0 L149.5,192.0 L150.5,193.8 L151.5,195.5 L152.5,197.1 L153.5,198.5 L154.5,199.8 L155.5,201.0 L156.5,202.2 L157.5,203.2 L158.5,204.1 L159.5,204.9 L160.5,205.6 L161.5,206.3 L162.5,206.9 L163.5,207.5 L164.5,208.0 L165.5,208.5 L166.5,208.9 L167.5,209.3 L168.5,209.6 L169.5,209.9 L170.5,210.2 L171.5,210.5 L172.5,210.7 L173.5,211.0 L174.5,211.2 L175.5,211.4 L176.5,211.5 L177.5,211.7 L178.5,211.8 L179.5,212.0 L180.5,212.1 L181.5,212.2 L182.5,212.3 L183.5,212.4 L184.5,212.5 L185.5,212.6 L186.5,212.7 L187.5,212.7 L188.5,212.8 L189.5,212.8 L190.5,212.9 L191.5,212.9 L192.5,212.9 L193.5,213.0 L194.5,213.0 L195.5,213.0 L196.5,213.0 L197.5,213.1 L198.5,213.1 L199.5,213.1 L200.5,213.1 L201.5,213.1 L202.5,213.1 L203.5,213.1 L204.5,213.1 L205.5,213.2 L206.5,213.2 L207.5,213.2 L208.5,213.2 L209.5,213.2 L210.5,213.2 L211.5,213.2 L212.5,213.2 L213.5,213.2 L214.5,213.2 L215.5,213.2 L216.5,213.2 L217.5,213.2 L218.5,213.2 L219.5,213.2 L220.5,213.2 L221.5,213.2 L222.5,213.2 L223.5,213.2 L224.5,213.2 L225.5,213.2 L226.5,213.2 L227.5,213.2 L228.5,213.2 L229.5,213.2 L230.5,213.2 L231.5,213.2 L232.5,213.2 L233.5,213.2 L234.5,213.2 L235.5,213.2 L236.5,213.2 L237.5,213.2 L238.5,213.2 L239.5,213.2 L240.5,213.2 L241.5,213.2 L242.5,213.2 L243.5,213.2 L244.5,213.2 L245.5,213.2 L246.5,213.2 L247.5,213.2 L248.5,213.2 L249.5,213.2 L250.5,213.2 L251.5,213.2 L252.5,213.2 L253.5,213.2 L254.5,213.2 L255.5,213.2 L256.5,213.2 L257.5,213.2 L258.5,213.2 L259.5,213.2 L260.5,213.2 L261.5,213.2 L262.5,213.2 L263.5,213.2 L264.5,213.2 L265.5,213.2 L266.5,213.3 L267.5,213.3 L268.5,213.3 L269.5,213.3 L270.5,213.3 L271.5,213.3 L272.5,213.3 L273.5,213.3 L274.5,213.4 L275.5,213.4 L276.5,213.4 L277.5,213.4 L278.5,213.4 L279.5,213.5 L280.5,213.5 L281.5,213.5 L282.5,213.5 L283.5,213.5 L284.5,213.5 L285.5,213.5 L286.5,213.5 L287.5,213.5 L288.0,213.5" fill="none" stroke="#9a60dc" stroke-width="1.5" stroke-linejoin="round"/>
<path d="M67.5,52.3 L68.5,52.3 L69.5,52.3 L70.5,52.3 L71.5,52.3 L72.5,52.3 L73.5,52.3 L74.5,52.3 L75.5,52.3 L76.5,52.3 L77.5,52.3 L78.5,52.3 L79.5,52.3 L80.5,52.3 L81.5,52.3 L82.5,52.3 L83.5,52.3 L84.5,52.3 L85.5,52.3 L86.5,52.3 L87.5,52.3 L88.5,52.3 L89.5,52.3 L90.5,52.3 L91.5,52.3 L92.5,52.3 L93.5,52.3 L94.5,52.3 L95.5,52.3 L96.5,52.3 L97.5,52.3 L98.5,52.3 L99.5,52.3 L100.5,52.3 L101.5,52.3 L102.5,52.3 L103.5,52.3 L104.5,52.3 L105.5,52.3 L106.5,52.3 L107.5,52.3 L108.5,52.3 L109.5,52.3 L110.5,52.3 L111.5,52.3 L112.5,52.3 L113.5,52.3 L114.5,52.3 L115.5,52.3 L116.5,52.3 L117.5,52.3 L118.5,52.3 L119.5,52.3 L120.5,52.3 L121.5,52.3 L122.5,52.3 L123.5,52.3 L124.5,52.3 L125.5,52.3 L126.5,52.3 L127.5,52.3 L128.5,52.3 L129.5,52.3 L130.5,52.3 L131.5,52.3 L132.5,52.3 L133.5,52.3 L134.5,52.3 L135.5,52.3 L136.5,52.3 L137.5,52.3 L138.5,52.3 L139.5,52.3 L140.5,52.3 L141.5,52.3 L142.5,52.3 L143.5,52.3 L144.5,52.3 L145.5,52.3 L146.5,52.3 L147.5,52.3 L148.5,52.3 L149.5,52.3 L150.5,52.3 L151.5,52.3 L152.5,52.4 L153.5,52.4 L154.5,52.4 L155.5,52.4 L156.5,52.4 L157.5,52.4 L158.5,52.5 L159.5,52.5 L160.5,52.5 L161.5,52.5 L162.5,52.6 L163.5,52.6 L164.5,52.7 L165.5,52.7 L166.5,52.7 L167.5,52.8 L168.5,52.8 L169.5,52.9 L170.5,52.9 L171.5,53.0 L172.5,53.0 L173.5,53.1 L174.5,53.2 L175.5,53.2 L176.5,53.3 L177.5,53.4 L178.5,53.5 L179.5,53.6 L180.5,53.8 L181.5,53.9 L182.5,54.1 L183.5,54.3 L184.5,54.5 L185.5,54.8 L186.5,55.0 L187.5,55.3 L188.5,55.5 L189.5,55.8 L190.5,56.1 L191.5,56.4 L192.5,56.8 L193.5,57.1 L194.5,57.4 L195.5,57.8 L196.5,58.2 L197.5,58.6 L198.5,59.0 L199.5,59.5 L200.5,59.9 L201.5,60.4 L202.5,61.0 L203.5,61.6 L204.5,62.2 L205.5,62.8 L206.5,63.5 L207.5,64.2 L208.5,64.9 L209.5,65.7 L210.5,66.6 L211.5,67.4 L212.5,68.3 L213.5,69.3 L214.5,70.4 L215.5,71.5 L216.5,72.7 L217.5,74.0 L218.5,75.5 L219.5,77.0 L220.5,78.7 L221.5,80.4 L222.5,82.2 L223.5,84.2 L224.5,86.2 L225.5,88.3 L226.5,90.6 L227.5,92.9 L228.5,95.3 L229.5,97.9 L230.5,100.5 L231.5,103.2 L232.5,106.0 L233.5,108.9 L234.5,111.9 L235.5,115.0 L236.5,118.2 L237.5,121.4 L238.5,124.7 L239.5,128.1 L240.5,131.6 L241.5,135.1 L242.5,138.7 L243.5,142.3 L244.5,146.0 L245.5,149.6 L246.5,153.3 L247.5,157.0 L248.5,160.7 L249.5,164.3 L250.5,168.0 L251.5,171.6 L252.5,175.1 L253.5,178.7 L254.5,182.2 L255.5,185.7 L256.5,189.2 L257.5,192.6 L258.5,196.0 L259.5,199.3 L260.5,202.6 L261.5,205.8 L262.5,209.0 L263.5,212.1 L264.5,215.1 L265.5,218.0 L266.5,220.9 L267.5,223.6 L268.5,226.3 L269.5,228.9 L270.5,231.4 L271.5,233.7 L272.5,236.1 L273.5,238.3 L274.5,240.5 L275.5,242.6 L276.5,244.6 L277.5,246.6 L278.5,248.5 L279.5,250.3 L280.5,252.1 L281.5,253.9 L282.5,255.5 L283.5,257.1 L284.5,258.6 L285.5,260.1 L286.5,261.4 L287.5,262.7 L288.0,263.4" fill="none" stroke="#b0a048" stroke-width="1.5" stroke-linejoin="round"/>
<path d="M67.5,52.3 L68.5,52.3 L69.5,52.3 L70.5,52.3 L71.5,52.3 L72.5,52.3 L73.5,52.3 L74.5,52.3 L75.5,52.3 L76.5,52.3 L77.5,52.3 L78.5,52.3 L79.5,52.3 L80.5,52.3 L81.5,52.3 L82.5,52.3 L83.5,52.3 L84.5,52.3 L85.5,52.3 L86.5,52.3 L87.5,52.3 L88.5,52.3 L89.5,52.3 L90.5,52.3 L91.5,52.3 L92.5,52.3 L93.5,52.3 L94.5,52.3 L95.5,52.3 L96.5,52.3 L97.5,52.3 L98.5,52.3 L99.5,52.3 L100.5,52.3 L101.5,52.3 L102.5,52.3 L103.5,52.3 L104.5,52.3 L105.5,52.3 L106.5,52.3 L107.5,52.3 L108.5,52.3 L109.5,52.3 L110.5,52.3 L111.5,52.3 L112.5,52.3 L113.5,52.3 L114.5,52.3 L115.5,52.3 L116.5,52.3 L117.5,52.3 L118.5,52.3 L119.5,52.3 L120.5,52.3 L121.5,52.3 L122.5,52.3 L123.5,52.3 L124.5,52.3 L125.5,52.3 L126.5,52.3 L127.5,52.3 L128.5,52.3 L129.5,52.3 L130.5,52.3 L131.5,52.3 L132.5,52.3 L133.5,52.3 L134.5,52.3 L135.5,52.3 L136.5,52.3 L137.5,52.3 L138.5,52.3 L139.5,52.3 L140.5,52.3 L141.5,52.3 L142.5,52.3 L143.5,52.3 L144.5,52.3 L145.5,52.3 L146.5,52.3 L147.5,52.3 L148.5,52.3 L149.5,52.3 L150.5,52.3 L151.5,52.3 L152.5,52.4 L153.5,52.4 L154.5,52.4 L155.5,52.4 L156.5,52.4 L157.5,52.4 L158.5,52.5 L159.5,52.5 L160.5,52.5 L161.5,52.5 L162.5,52.6 L163.5,52.6 L164.5,52.6 L165.5,52.7 L166.5,52.7 L167.5,52.7 L168.5,52.7 L169.5,52.7 L170.5,52.7 L171.5,52.7 L172.5,52.7 L173.5,52.8 L174.5,52.8 L175.5,52.8 L176.5,52.9 L177.5,52.9 L178.5,53.0 L179.5,53.1 L180.5,53.2 L181.5,53.3 L182.5,53.4 L183.5,53.6 L184.5,53.7 L185.5,53.9 L186.5,54.1 L187.5,54.4 L188.5,54.6 L189.5,54.9 L190.5,55.2 L191.5,55.5 L192.5,55.9 L193.5,56.3 L194.5,56.7 L195.5,57.1 L196.5,57.5 L197.5,57.9 L198.5,58.4 L199.5,58.9 L200.5,59.4 L201.5,59.9 L202.5,60.5 L203.5,61.0 L204.5,61.7 L205.5,62.3 L206.5,63.0 L207.5,63.7 L208.5,64.5 L209.5,65.4 L210.5,66.3 L211.5,67.3 L212.5,68.4 L213.5,69.5 L214.5,70.8 L215.5,72.1 L216.5,73.5 L217.5,75.1 L218.5,76.7 L219.5,78.5 L220.5,80.3 L221.5,82.3 L222.5,84.4 L223.5,86.6 L224.5,88.9 L225.5,91.3 L226.5,93.9 L227.5,96.5 L228.5,99.3 L229.5,102.2 L230.5,105.3 L231.5,108.4 L232.5,111.7 L233.5,115.0 L234.5,118.5 L235.5,122.0 L236.5,125.6 L237.5,129.4 L238.5,133.1 L239.5,137.0 L240.5,140.9 L241.5,144.8 L242.5,148.8 L243.5,152.8 L244.5,156.9 L245.5,160.9 L246.5,164.9 L247.5,168.9 L248.5,172.9 L249.5,176.9 L250.5,180.8 L251.5,184.6 L252.5,188.4 L253.5,192.2 L254.5,195.8 L255.5,199.4 L256.5,202.8 L257.5,206.2 L258.5,209.4 L259.5,212.6 L260.5,215.6 L261.5,218.5 L262.5,221.2 L263.5,223.9 L264.5,226.4 L265.5,228.9 L266.5,231.2 L267.5,233.4 L268.5,235.5 L269.5,237.5 L270.5,239.4 L271.5,241.2 L272.5,243.0 L273.5,244.6 L274.5,246.1 L275.5,247.5 L276.5,248.9 L277.5,250.1 L278.5,251.2 L279.5,252.3 L280.5,253.3 L281.5,254.2 L282.5,255.1 L283.5,255.8 L284.5,256.6 L285.5,257.3 L286.5,257.9 L287.5,258.5 L288.0,258.8" fill="none" stroke="#3434b4" stroke-width="1.5" stroke-linejoin="round"/>
<path d="M67.5,51.4 L68.5,51.4 L69.5,51.4 L70.5,51.4 L71.5,51.4 L72.5,51.4 L73.5,51.4 L74.5,51.4 L75.5,51.4 L76.5,51.4 L77.5,51.4 L78.5,51.4 L79.5,51.4 L80.5,51.4 L81.5,51.4 L82.5,51.4 L83.5,51.4 L84.5,51.4 L85.5,51.4 L86.5,51.4 L87.5,51.4 L88.5,51.4 L89.5,51.4 L90.5,51.4 L91.5,51.4 L92.5,51.4 L93.5,51.4 L94.5,51.4 L95.5,51.4 L96.5,51.4 L97.5,51.4 L98.5,51.4 L99.5,51.4 L100.5,51.4 L101.5,51.4 L102.5,51.4 L103.5,51.4 L104.5,51.4 L105.5,51.4 L106.5,51.4 L107.5,51.4 L108.5,51.4 L109.5,51.4 L110.5,51.4 L111.5,51.4 L112.5,51.4 L113.5,51.4 L114.5,51.4 L115.5,51.4 L116.5,51.4 L117.5,51.4 L118.5,51.4 L119.5,51.4 L120.5,51.4 L121.5,51.4 L122.5,51.4 L123.5,51.4 L124.5,51.4 L125.5,51.4 L126.5,51.4 L127.5,51.4 L128.5,51.4 L129.5,51.4 L130.5,51.4 L131.5,51.4 L132.5,51.4 L133.5,51.4 L134.5,51.4 L135.5,51.4 L136.5,51.4 L137.5,51.4 L138.5,51.4 L139.5,51.4 L140.5,51.4 L141.5,51.4 L142.5,51.4 L143.5,51.4 L144.5,51.4 L145.5,51.4 L146.5,51.4 L147.5,51.4 L148.5,51.4 L149.5,51.4 L150.5,51.4 L151.5,51.4 L152.5,51.4 L153.5,51.4 L154.5,51.4 L155.5,51.4 L156.5,51.4 L157.5,51.4 L158.5,51.4 L159.5,51.4 L160.5,51.4 L161.5,51.4 L162.5,51.4 L163.5,51.4 L164.5,51.4 L165.5,51.4 L166.5,51.4 L167.5,51.4 L168.5,51.4 L169.5,51.4 L170.5,51.4 L171.5,51.4 L172.5,51.4 L173.5,51.4 L174.5,51.4 L175.5,51.4 L176.5,51.4 L177.5,51.4 L178.5,51.5 L179.5,51.5 L180.5,51.5 L181.5,51.5 L182.5,51.5 L183.5,51.5 L184.5,51.5 L185.5,51.5 L186.5,51.6 L187.5,51.6 L188.5,51.6 L189.5,51.7 L190.5,51.7 L191.5,51.8 L192.5,51.8 L193.5,51.9 L194.5,52.0 L195.5,52.1 L196.5,52.2 L197.5,52.4 L198.5,52.5 L199.5,52.6 L200.5,52.8 L201.5,52.9 L202.5,53.1 L203.5,53.2 L204.5,53.4 L205.5,53.5 L206.5,53.7 L207.5,53.9 L208.5,54.0 L209.5,54.3 L210.5,54.5 L211.5,54.7 L212.5,55.0 L213.5,55.3 L214.5,55.7 L215.5,56.1 L216.5,56.6 L217.5,57.1 L218.5,57.6 L219.5,58.3 L220.5,59.0 L221.5,59.8 L222.5,60.7 L223.5,61.6 L224.5,62.7 L225.5,63.9 L226.5,65.2 L227.5,66.6 L228.5,68.1 L229.5,69.8 L230.5,71.6 L231.5,73.6 L232.5,75.7 L233.5,78.0 L234.5,80.4 L235.5,82.9 L236.5,85.6 L237.5,88.3 L238.5,91.2 L239.5,94.1 L240.5,97.1 L241.5,100.2 L242.5,103.3 L243.5,106.3 L244.5,109.4 L245.5,112.4 L246.5,115.4 L247.5,118.4 L248.5,121.2 L249.5,124.0 L250.5,126.7 L251.5,129.3 L252.5,131.8 L253.5,134.2 L254.5,136.5 L255.5,138.7 L256.5,140.8 L257.5,142.8 L258.5,144.7 L259.5,146.5 L260.5,148.2 L261.5,149.8 L262.5,151.3 L263.5,152.7 L264.5,154.0 L265.5,155.2 L266.5,156.4 L267.5,157.4 L268.5,158.4 L269.5,159.4 L270.5,160.2 L271.5,161.0 L272.5,161.8 L273.5,162.4 L274.5,163.1 L275.5,163.6 L276.5,164.1 L277.5,164.6 L278.5,165.0 L279.5,165.4 L280.5,165.7 L281.5,166.0 L282.5,166.3 L283.5,166.5 L284.5,166.7 L285.5,166.9 L286.5,167.1 L287.5,167.2 L288.0,167.3" fill="none" stroke="#f3f5c6" stroke-width="2.2" stroke-linejoin="round"/>
<path d="M67.5,52.3 L68.5,52.3 L69.5,52.3 L70.5,52.3 L71.5,52.3 L72.5,52.3 L73.5,52.3 L74.5,52.4 L75.5,52.4 L76.5,52.4 L77.5,52.4 L78.5,52.4 L79.5,52.4 L80.5,52.4 L81.5,52.4 L82.5,52.4 L83.5,52.4 L84.5,52.5 L85.5,52.5 L86.5,52.5 L87.5,52.5 L88.5,52.5 L89.5,52.5 L90.5,52.5 L91.5,52.5 L92.5,52.6 L93.5,52.6 L94.5,52.6 L95.5,52.6 L96.5,52.6 L97.5,52.6 L98.5,52.6 L99.5,52.7 L100.5,52.7 L101.5,52.7 L102.5,52.7 L103.5,52.7 L104.5,52.8 L105.5,52.8 L106.5,52.8 L107.5,52.8 L108.5,52.9 L109.5,52.9 L110.5,52.9 L111.5,52.9 L112.5,53.0 L113.5,53.0 L114.5,53.0 L115.5,53.1 L116.5,53.1 L117.5,53.2 L118.5,53.2 L119.5,53.2 L120.5,53.3 L121.5,53.3 L122.5,53.4 L123.5,53.4 L124.5,53.5 L125.5,53.6 L126.5,53.6 L127.5,53.7 L128.5,53.8 L129.5,53.8 L130.5,53.9 L131.5,54.0 L132.5,54.1 L133.5,54.2 L134.5,54.3 L135.5,54.4 L136.5,54.5 L137.5,54.6 L138.5,54.8 L139.5,54.9 L140.5,55.0 L141.5,55.2 L142.5,55.3 L143.5,55.5 L144.5,55.6 L145.5,55.8 L146.5,55.9 L147.5,56.1 L148.5,56.3 L149.5,56.4 L150.5,56.6 L151.5,56.8 L152.5,57.0 L153.5,57.2 L154.5,57.4 L155.5,57.6 L156.5,57.9 L157.5,58.1 L158.5,58.3 L159.5,58.6 L160.5,58.9 L161.5,59.1 L162.5,59.4 L163.5,59.7 L164.5,60.1 L165.5,60.4 L166.5,60.8 L167.5,61.1 L168.5,61.5 L169.5,62.0 L170.5,62.4 L171.5,62.8 L172.5,63.3 L173.5,63.8 L174.5,64.2 L175.5,64.8 L176.5,65.3 L177.5,65.8 L178.5,66.4 L179.5,67.0 L180.5,67.6 L181.5,68.2 L182.5,68.9 L183.5,69.5 L184.5,70.2 L185.5,70.9 L186.5,71.6 L187.5,72.4 L188.5,73.1 L189.5,73.9 L190.5,74.7 L191.5,75.6 L192.5,76.4 L193.5,77.3 L194.5,78.3 L195.5,79.2 L196.5,80.2 L197.5,81.2 L198.5,82.3 L199.5,83.4 L200.5,84.5 L201.5,85.6 L202.5,86.8 L203.5,88.0 L204.5,89.2 L205.5,90.4 L206.5,91.7 L207.5,93.0 L208.5,94.3 L209.5,95.7 L210.5,97.1 L211.5,98.6 L212.5,100.0 L213.5,101.5 L214.5,103.0 L215.5,104.6 L216.5,106.1 L217.5,107.7 L218.5,109.2 L219.5,110.8 L220.5,112.4 L221.5,114.0 L222.5,115.7 L223.5,117.3 L224.5,118.9 L225.5,120.6 L226.5,122.2 L227.5,123.9 L228.5,125.6 L229.5,127.2 L230.5,128.9 L231.5,130.6 L232.5,132.3 L233.5,134.0 L234.5,135.6 L235.5,137.3 L236.5,139.0 L237.5,140.7 L238.5,142.4 L239.5,144.1 L240.5,145.7 L241.5,147.4 L242.5,149.1 L243.5,150.7 L244.5,152.4 L245.5,154.0 L246.5,155.6 L247.5,157.2 L248.5,158.8 L249.5,160.3 L250.5,161.8 L251.5,163.3 L252.5,164.8 L253.5,166.3 L254.5,167.7 L255.5,169.1 L256.5,170.4 L257.5,171.7 L258.5,173.0 L259.5,174.2 L260.5,175.4 L261.5,176.6 L262.5,177.8 L263.5,179.0 L264.5,180.2 L265.5,181.3 L266.5,182.4 L267.5,183.6 L268.5,184.7 L269.5,185.8 L270.5,186.9 L271.5,187.9 L272.5,189.0 L273.5,190.0 L274.5,191.0 L275.5,192.0 L276.5,193.0 L277.5,193.9 L278.5,194.9 L279.5,195.8 L280.5,196.7 L281.5,197.5 L282.5,198.4 L283.5,199.2 L284.5,200.0 L285.5,200.8 L286.5,201.5 L287.5,202.2 L288.0,202.6" fill="none" stroke="#b03844" stroke-width="1.5" stroke-linejoin="round"/>
</g><g clip-path="url(#cr)">
<path d="M295.5,52.8 L296.5,52.8 L297.5,52.9 L298.5,53.0 L299.5,53.1 L300.5,53.1 L301.5,53.2 L302.5,53.4 L303.5,53.5 L304.5,53.6 L305.5,53.7 L306.5,53.8 L307.5,53.9 L308.5,54.0 L309.5,54.1 L310.5,54.1 L311.5,54.0 L312.5,54.0 L313.5,53.9 L314.5,53.9 L315.5,53.9 L316.5,53.9 L317.5,54.0 L318.5,54.1 L319.5,54.3 L320.5,54.5 L321.5,54.8 L322.5,55.1 L323.5,55.5 L324.5,56.0 L325.5,56.5 L326.5,57.1 L327.5,57.8 L328.5,58.5 L329.5,59.4 L330.5,60.3 L331.5,61.3 L332.5,62.4 L333.5,63.6 L334.5,64.8 L335.5,66.1 L336.5,67.4 L337.5,68.7 L338.5,70.1 L339.5,71.4 L340.5,72.8 L341.5,74.2 L342.5,75.6 L343.5,77.1 L344.5,78.7 L345.5,80.3 L346.5,82.0 L347.5,83.7 L348.5,85.5 L349.5,87.4 L350.5,89.4 L351.5,91.4 L352.5,93.5 L353.5,95.6 L354.5,97.8 L355.5,100.1 L356.5,102.4 L357.5,104.7 L358.5,107.2 L359.5,109.7 L360.5,112.3 L361.5,115.1 L362.5,118.0 L363.5,121.0 L364.5,124.2 L365.5,127.6 L366.5,131.0 L367.5,134.6 L368.5,138.2 L369.5,142.0 L370.5,145.8 L371.5,149.6 L372.5,153.5 L373.5,157.3 L374.5,161.2 L375.5,165.1 L376.5,168.9 L377.5,172.7 L378.5,176.5 L379.5,180.2 L380.5,183.8 L381.5,187.3 L382.5,190.7 L383.5,194.0 L384.5,197.2 L385.5,200.3 L386.5,203.2 L387.5,206.0 L388.5,208.6 L389.5,211.1 L390.5,213.4 L391.5,215.7 L392.5,217.8 L393.5,219.9 L394.5,221.9 L395.5,223.8 L396.5,225.7 L397.5,227.5 L398.5,229.2 L399.5,230.9 L400.5,232.5 L401.5,234.1 L402.5,235.6 L403.5,237.0 L404.5,238.4 L405.5,239.8 L406.5,241.0 L407.5,242.3 L408.5,243.5 L409.5,244.6 L410.5,245.7 L411.5,246.7 L412.5,247.6 L413.5,248.5 L414.5,249.3 L415.5,250.1 L416.5,250.8 L417.5,251.5 L418.5,252.1 L419.5,252.6 L420.5,253.1 L421.5,253.6 L422.5,254.1 L423.5,254.5 L424.5,254.9 L425.5,255.3 L426.5,255.6 L427.5,255.9 L428.5,256.2 L429.5,256.5 L430.5,256.8 L431.5,257.0 L432.5,257.2 L433.5,257.4 L434.5,257.6 L435.5,257.8 L436.5,258.0 L437.5,258.2 L438.5,258.3 L439.5,258.5 L440.5,258.6 L441.5,258.8 L442.5,258.9 L443.5,259.0 L444.5,259.1 L445.5,259.3 L446.5,259.4 L447.5,259.5 L448.5,259.6 L449.5,259.7 L450.5,259.8 L451.5,259.8 L452.5,259.9 L453.5,260.0 L454.5,260.0 L455.5,260.1 L456.5,260.2 L457.5,260.2 L458.5,260.2 L459.5,260.3 L460.5,260.3 L461.5,260.3 L462.5,260.4 L463.5,260.4 L464.5,260.4 L465.5,260.4 L466.5,260.4 L467.5,260.4 L468.5,260.4 L469.5,260.4 L470.5,260.4 L471.5,260.4 L472.5,260.4 L473.5,260.4 L474.5,260.4 L475.5,260.4 L476.5,260.4 L477.5,260.3 L478.5,260.3 L479.5,260.3 L480.5,260.3 L481.5,260.3 L482.5,260.3 L483.5,260.3 L484.5,260.3 L485.5,260.4 L486.5,260.4 L487.5,260.4 L488.5,260.4 L489.5,260.4 L490.5,260.4 L491.5,260.4 L492.5,260.4 L493.5,260.4 L494.5,260.4 L495.5,260.4 L496.5,260.4 L497.5,260.4 L498.5,260.4 L499.5,260.4 L500.5,260.4 L501.5,260.4 L502.5,260.4 L503.5,260.4 L504.5,260.3 L505.5,260.3 L506.5,260.3 L507.5,260.3 L508.5,260.3 L509.5,260.3 L510.5,260.3 L511.5,260.3 L512.5,260.3 L513.5,260.3 L514.5,260.3 L515.5,260.3" fill="none" stroke="#f4c49c" stroke-width="1.5" stroke-linejoin="round"/>
<path d="M295.5,72.3 L296.5,72.9 L297.5,73.6 L298.5,74.3 L299.5,75.0 L300.5,75.7 L301.5,76.5 L302.5,77.3 L303.5,78.1 L304.5,78.9 L305.5,79.8 L306.5,80.6 L307.5,81.5 L308.5,82.4 L309.5,83.4 L310.5,84.3 L311.5,85.3 L312.5,86.3 L313.5,87.3 L314.5,88.3 L315.5,89.4 L316.5,90.5 L317.5,91.6 L318.5,92.8 L319.5,94.0 L320.5,95.2 L321.5,96.5 L322.5,97.7 L323.5,99.1 L324.5,100.4 L325.5,101.8 L326.5,103.2 L327.5,104.6 L328.5,106.0 L329.5,107.4 L330.5,108.9 L331.5,110.4 L332.5,111.9 L333.5,113.4 L334.5,114.9 L335.5,116.4 L336.5,117.9 L337.5,119.5 L338.5,121.1 L339.5,122.7 L340.5,124.3 L341.5,125.9 L342.5,127.5 L343.5,129.2 L344.5,130.8 L345.5,132.5 L346.5,134.2 L347.5,135.9 L348.5,137.6 L349.5,139.4 L350.5,141.1 L351.5,142.9 L352.5,144.7 L353.5,146.5 L354.5,148.4 L355.5,150.3 L356.5,152.3 L357.5,154.3 L358.5,156.3 L359.5,158.4 L360.5,160.5 L361.5,162.7 L362.5,164.8 L363.5,167.0 L364.5,169.2 L365.5,171.5 L366.5,173.7 L367.5,175.9 L368.5,178.1 L369.5,180.2 L370.5,182.4 L371.5,184.5 L372.5,186.6 L373.5,188.7 L374.5,190.8 L375.5,192.9 L376.5,194.9 L377.5,196.9 L378.5,199.0 L379.5,201.0 L380.5,203.0 L381.5,205.1 L382.5,207.1 L383.5,209.1 L384.5,211.0 L385.5,212.9 L386.5,214.7 L387.5,216.5 L388.5,218.1 L389.5,219.7 L390.5,221.1 L391.5,222.5 L392.5,223.8 L393.5,225.1 L394.5,226.3 L395.5,227.4 L396.5,228.5 L397.5,229.6 L398.5,230.7 L399.5,231.7 L400.5,232.7 L401.5,233.7 L402.5,234.7 L403.5,235.7 L404.5,236.6 L405.5,237.6 L406.5,238.5 L407.5,239.5 L408.5,240.4 L409.5,241.3 L410.5,242.1 L411.5,243.0 L412.5,243.7 L413.5,244.5 L414.5,245.2 L415.5,245.8 L416.5,246.5 L417.5,247.1 L418.5,247.7 L419.5,248.3 L420.5,248.9 L421.5,249.5 L422.5,250.1 L423.5,250.6 L424.5,251.2 L425.5,251.7 L426.5,252.2 L427.5,252.8 L428.5,253.3 L429.5,253.8 L430.5,254.3 L431.5,254.8 L432.5,255.3 L433.5,255.8 L434.5,256.3 L435.5,256.9 L436.5,257.4 L437.5,257.9 L438.5,258.5 L439.5,259.0 L440.5,259.5 L441.5,260.0 L442.5,260.4 L443.5,260.8 L444.5,261.1 L445.5,261.4 L446.5,261.7 L447.5,262.0 L448.5,262.2 L449.5,262.4 L450.5,262.7 L451.5,262.9 L452.5,263.0 L453.5,263.2 L454.5,263.4 L455.5,263.6 L456.5,263.7 L457.5,263.8 L458.5,264.0 L459.5,264.1 L460.5,264.2 L461.5,264.3 L462.5,264.4 L463.5,264.5 L464.5,264.6 L465.5,264.7 L466.5,264.7 L467.5,264.8 L468.5,264.9 L469.5,264.9 L470.5,265.0 L471.5,265.0 L472.5,265.1 L473.5,265.1 L474.5,265.2 L475.5,265.2 L476.5,265.3 L477.5,265.3 L478.5,265.4 L479.5,265.5 L480.5,265.5 L481.5,265.6 L482.5,265.6 L483.5,265.7 L484.5,265.7 L485.5,265.7 L486.5,265.8 L487.5,265.8 L488.5,265.9 L489.5,265.9 L490.5,265.9 L491.5,266.0 L492.5,266.0 L493.5,266.1 L494.5,266.1 L495.5,266.1 L496.5,266.2 L497.5,266.3 L498.5,266.3 L499.5,266.4 L500.5,266.5 L501.5,266.6 L502.5,266.6 L503.5,266.7 L504.5,266.8 L505.5,266.9 L506.5,266.9 L507.5,267.0 L508.5,267.0 L509.5,267.0 L510.5,267.1 L511.5,267.1 L512.5,267.1 L513.5,267.2 L514.5,267.2 L515.5,267.2" fill="none" stroke="#e8a868" stroke-width="1.5" stroke-linejoin="round"/>
<path d="M295.5,74.4 L296.5,75.1 L297.5,75.8 L298.5,76.6 L299.5,77.4 L300.5,78.2 L301.5,79.0 L302.5,79.9 L303.5,80.8 L304.5,81.8 L305.5,82.7 L306.5,83.7 L307.5,84.7 L308.5,85.8 L309.5,86.8 L310.5,87.8 L311.5,88.8 L312.5,89.9 L313.5,91.0 L314.5,92.1 L315.5,93.2 L316.5,94.3 L317.5,95.5 L318.5,96.7 L319.5,97.9 L320.5,99.1 L321.5,100.4 L322.5,101.8 L323.5,103.1 L324.5,104.5 L325.5,105.9 L326.5,107.4 L327.5,108.9 L328.5,110.4 L329.5,111.9 L330.5,113.4 L331.5,115.0 L332.5,116.6 L333.5,118.2 L334.5,119.7 L335.5,121.3 L336.5,122.9 L337.5,124.5 L338.5,126.0 L339.5,127.6 L340.5,129.1 L341.5,130.6 L342.5,132.1 L343.5,133.6 L344.5,135.1 L345.5,136.5 L346.5,138.0 L347.5,139.6 L348.5,141.1 L349.5,142.7 L350.5,144.3 L351.5,145.9 L352.5,147.6 L353.5,149.4 L354.5,151.2 L355.5,153.1 L356.5,155.1 L357.5,157.1 L358.5,159.2 L359.5,161.3 L360.5,163.5 L361.5,165.7 L362.5,168.0 L363.5,170.3 L364.5,172.6 L365.5,174.9 L366.5,177.2 L367.5,179.5 L368.5,181.8 L369.5,184.1 L370.5,186.4 L371.5,188.6 L372.5,190.8 L373.5,193.1 L374.5,195.3 L375.5,197.4 L376.5,199.6 L377.5,201.8 L378.5,203.9 L379.5,206.1 L380.5,208.2 L381.5,210.3 L382.5,212.3 L383.5,214.2 L384.5,216.1 L385.5,217.9 L386.5,219.6 L387.5,221.2 L388.5,222.7 L389.5,224.2 L390.5,225.5 L391.5,226.8 L392.5,228.0 L393.5,229.1 L394.5,230.2 L395.5,231.2 L396.5,232.2 L397.5,233.2 L398.5,234.2 L399.5,235.2 L400.5,236.2 L401.5,237.2 L402.5,238.2 L403.5,239.1 L404.5,240.1 L405.5,241.1 L406.5,242.1 L407.5,243.0 L408.5,243.9 L409.5,244.9 L410.5,245.8 L411.5,246.7 L412.5,247.6 L413.5,248.4 L414.5,249.3 L415.5,250.1 L416.5,250.9 L417.5,251.7 L418.5,252.4 L419.5,253.1 L420.5,253.8 L421.5,254.5 L422.5,255.0 L423.5,255.6 L424.5,256.1 L425.5,256.6 L426.5,257.1 L427.5,257.6 L428.5,258.1 L429.5,258.6 L430.5,259.0 L431.5,259.5 L432.5,260.0 L433.5,260.4 L434.5,260.9 L435.5,261.3 L436.5,261.8 L437.5,262.2 L438.5,262.7 L439.5,263.1 L440.5,263.6 L441.5,264.1 L442.5,264.6 L443.5,265.1 L444.5,265.5 L445.5,266.0 L446.5,266.4 L447.5,266.8 L448.5,267.1 L449.5,267.4 L450.5,267.7 L451.5,267.9 L452.5,268.2 L453.5,268.4 L454.5,268.6 L455.5,268.8 L456.5,269.0 L457.5,269.2 L458.5,269.4 L459.5,269.6 L460.5,269.7 L461.5,269.9 L462.5,270.1 L463.5,270.2 L464.5,270.4 L465.5,270.6 L466.5,270.7 L467.5,270.9 L468.5,271.0 L469.5,271.2 L470.5,271.3 L471.5,271.5 L472.5,271.6 L473.5,271.7 L474.5,271.8 L475.5,271.9 L476.5,272.0 L477.5,272.1 L478.5,272.2 L479.5,272.3 L480.5,272.4 L481.5,272.4 L482.5,272.5 L483.5,272.6 L484.5,272.6 L485.5,272.7 L486.5,272.7 L487.5,272.8 L488.5,272.9 L489.5,272.9 L490.5,273.0 L491.5,273.0 L492.5,273.1 L493.5,273.2 L494.5,273.2 L495.5,273.3 L496.5,273.4 L497.5,273.5 L498.5,273.7 L499.5,273.8 L500.5,274.0 L501.5,274.2 L502.5,274.4 L503.5,274.5 L504.5,274.7 L505.5,274.9 L506.5,275.0 L507.5,275.1 L508.5,275.2 L509.5,275.3 L510.5,275.4 L511.5,275.4 L512.5,275.5 L513.5,275.5 L514.5,275.5 L515.5,275.6" fill="none" stroke="#ec9840" stroke-width="1.5" stroke-linejoin="round"/>
<path d="M295.5,95.9 L296.5,96.7 L297.5,97.4 L298.5,98.1 L299.5,98.9 L300.5,99.7 L301.5,100.4 L302.5,101.3 L303.5,102.1 L304.5,102.9 L305.5,103.8 L306.5,104.8 L307.5,105.7 L308.5,106.7 L309.5,107.8 L310.5,108.8 L311.5,109.8 L312.5,110.8 L313.5,111.8 L314.5,112.8 L315.5,113.7 L316.5,114.7 L317.5,115.6 L318.5,116.5 L319.5,117.4 L320.5,118.4 L321.5,119.3 L322.5,120.2 L323.5,121.1 L324.5,122.0 L325.5,122.9 L326.5,123.9 L327.5,124.8 L328.5,125.8 L329.5,126.7 L330.5,127.7 L331.5,128.7 L332.5,129.7 L333.5,130.8 L334.5,131.8 L335.5,132.9 L336.5,134.0 L337.5,135.1 L338.5,136.2 L339.5,137.3 L340.5,138.5 L341.5,139.6 L342.5,140.7 L343.5,141.9 L344.5,143.0 L345.5,144.1 L346.5,145.3 L347.5,146.4 L348.5,147.5 L349.5,148.6 L350.5,149.8 L351.5,150.9 L352.5,152.1 L353.5,153.3 L354.5,154.5 L355.5,155.7 L356.5,157.0 L357.5,158.3 L358.5,159.6 L359.5,161.0 L360.5,162.3 L361.5,163.7 L362.5,165.1 L363.5,166.5 L364.5,167.9 L365.5,169.3 L366.5,170.6 L367.5,172.0 L368.5,173.3 L369.5,174.6 L370.5,175.9 L371.5,177.1 L372.5,178.4 L373.5,179.6 L374.5,180.8 L375.5,182.0 L376.5,183.1 L377.5,184.3 L378.5,185.5 L379.5,186.7 L380.5,187.8 L381.5,189.0 L382.5,190.1 L383.5,191.3 L384.5,192.4 L385.5,193.6 L386.5,194.7 L387.5,195.9 L388.5,197.0 L389.5,198.1 L390.5,199.2 L391.5,200.3 L392.5,201.4 L393.5,202.5 L394.5,203.5 L395.5,204.6 L396.5,205.6 L397.5,206.6 L398.5,207.7 L399.5,208.7 L400.5,209.8 L401.5,210.8 L402.5,211.9 L403.5,212.9 L404.5,214.0 L405.5,215.0 L406.5,216.0 L407.5,217.1 L408.5,218.1 L409.5,219.1 L410.5,220.1 L411.5,221.0 L412.5,222.0 L413.5,222.9 L414.5,223.8 L415.5,224.7 L416.5,225.6 L417.5,226.5 L418.5,227.3 L419.5,228.1 L420.5,228.9 L421.5,229.7 L422.5,230.5 L423.5,231.3 L424.5,232.0 L425.5,232.8 L426.5,233.5 L427.5,234.3 L428.5,235.0 L429.5,235.8 L430.5,236.5 L431.5,237.3 L432.5,238.1 L433.5,238.8 L434.5,239.6 L435.5,240.4 L436.5,241.1 L437.5,241.9 L438.5,242.6 L439.5,243.4 L440.5,244.1 L441.5,244.8 L442.5,245.6 L443.5,246.3 L444.5,247.0 L445.5,247.7 L446.5,248.4 L447.5,249.1 L448.5,249.8 L449.5,250.5 L450.5,251.1 L451.5,251.8 L452.5,252.4 L453.5,253.0 L454.5,253.6 L455.5,254.1 L456.5,254.7 L457.5,255.2 L458.5,255.7 L459.5,256.3 L460.5,256.8 L461.5,257.3 L462.5,257.7 L463.5,258.2 L464.5,258.7 L465.5,259.1 L466.5,259.6 L467.5,260.0 L468.5,260.4 L469.5,260.9 L470.5,261.3 L471.5,261.7 L472.5,262.1 L473.5,262.4 L474.5,262.8 L475.5,263.2 L476.5,263.5 L477.5,263.9 L478.5,264.2 L479.5,264.6 L480.5,264.9 L481.5,265.3 L482.5,265.6 L483.5,266.0 L484.5,266.3 L485.5,266.6 L486.5,267.0 L487.5,267.3 L488.5,267.6 L489.5,267.9 L490.5,268.2 L491.5,268.5 L492.5,268.9 L493.5,269.2 L494.5,269.5 L495.5,269.8 L496.5,270.1 L497.5,270.3 L498.5,270.6 L499.5,270.9 L500.5,271.2 L501.5,271.5 L502.5,271.8 L503.5,272.1 L504.5,272.4 L505.5,272.7 L506.5,272.9 L507.5,273.2 L508.5,273.4 L509.5,273.7 L510.5,273.9 L511.5,274.1 L512.5,274.3 L513.5,274.5 L514.5,274.7 L515.5,275.0" fill="none" stroke="#48dcd8" stroke-width="1.5" stroke-linejoin="round"/>
<path d="M295.5,57.8 L296.5,58.2 L297.5,58.7 L298.5,59.2 L299.5,59.8 L300.5,60.3 L301.5,60.9 L302.5,61.5 L303.5,62.2 L304.5,62.9 L305.5,63.6 L306.5,64.4 L307.5,65.2 L308.5,66.1 L309.5,67.0 L310.5,68.0 L311.5,69.0 L312.5,70.1 L313.5,71.2 L314.5,72.4 L315.5,73.6 L316.5,74.9 L317.5,76.3 L318.5,77.7 L319.5,79.1 L320.5,80.6 L321.5,82.2 L322.5,83.8 L323.5,85.5 L324.5,87.2 L325.5,89.0 L326.5,90.9 L327.5,92.9 L328.5,94.9 L329.5,96.9 L330.5,99.1 L331.5,101.3 L332.5,103.5 L333.5,105.9 L334.5,108.3 L335.5,110.7 L336.5,113.3 L337.5,115.9 L338.5,118.5 L339.5,121.2 L340.5,123.9 L341.5,126.7 L342.5,129.6 L343.5,132.4 L344.5,135.4 L345.5,138.3 L346.5,141.3 L347.5,144.3 L348.5,147.3 L349.5,150.4 L350.5,153.5 L351.5,156.7 L352.5,159.9 L353.5,163.1 L354.5,166.3 L355.5,169.6 L356.5,172.9 L357.5,176.2 L358.5,179.4 L359.5,182.7 L360.5,185.9 L361.5,189.1 L362.5,192.3 L363.5,195.3 L364.5,198.3 L365.5,201.3 L366.5,204.1 L367.5,206.8 L368.5,209.5 L369.5,212.0 L370.5,214.4 L371.5,216.8 L372.5,219.0 L373.5,221.1 L374.5,223.2 L375.5,225.2 L376.5,227.0 L377.5,228.8 L378.5,230.5 L379.5,232.2 L380.5,233.7 L381.5,235.2 L382.5,236.7 L383.5,238.1 L384.5,239.4 L385.5,240.7 L386.5,242.0 L387.5,243.2 L388.5,244.5 L389.5,245.7 L390.5,246.9 L391.5,248.0 L392.5,249.1 L393.5,250.2 L394.5,251.3 L395.5,252.2 L396.5,253.2 L397.5,254.1 L398.5,254.9 L399.5,255.7 L400.5,256.4 L401.5,257.1 L402.5,257.7 L403.5,258.3 L404.5,258.9 L405.5,259.4 L406.5,259.9 L407.5,260.3 L408.5,260.8 L409.5,261.2 L410.5,261.5 L411.5,261.9 L412.5,262.2 L413.5,262.5 L414.5,262.8 L415.5,263.0 L416.5,263.3 L417.5,263.5 L418.5,263.7 L419.5,263.9 L420.5,264.1 L421.5,264.3 L422.5,264.4 L423.5,264.6 L424.5,264.8 L425.5,264.9 L426.5,265.1 L427.5,265.2 L428.5,265.3 L429.5,265.4 L430.5,265.5 L431.5,265.7 L432.5,265.8 L433.5,265.9 L434.5,265.9 L435.5,266.0 L436.5,266.1 L437.5,266.2 L438.5,266.3 L439.5,266.3 L440.5,266.4 L441.5,266.4 L442.5,266.5 L443.5,266.6 L444.5,266.6 L445.5,266.7 L446.5,266.7 L447.5,266.7 L448.5,266.8 L449.5,266.8 L450.5,266.9 L451.5,266.9 L452.5,266.9 L453.5,266.9 L454.5,267.0 L455.5,267.0 L456.5,267.0 L457.5,267.0 L458.5,267.1 L459.5,267.1 L460.5,267.1 L461.5,267.1 L462.5,267.1 L463.5,267.2 L464.5,267.2 L465.5,267.2 L466.5,267.2 L467.5,267.2 L468.5,267.2 L469.5,267.2 L470.5,267.2 L471.5,267.2 L472.5,267.2 L473.5,267.3 L474.5,267.3 L475.5,267.3 L476.5,267.3 L477.5,267.3 L478.5,267.3 L479.5,267.3 L480.5,267.3 L481.5,267.3 L482.5,267.3 L483.5,267.3 L484.5,267.3 L485.5,267.3 L486.5,267.3 L487.5,267.3 L488.5,267.3 L489.5,267.3 L490.5,267.3 L491.5,267.3 L492.5,267.3 L493.5,267.3 L494.5,267.4 L495.5,267.4 L496.5,267.4 L497.5,267.4 L498.5,267.4 L499.5,267.4 L500.5,267.4 L501.5,267.4 L502.5,267.5 L503.5,267.5 L504.5,267.5 L505.5,267.5 L506.5,267.5 L507.5,267.5 L508.5,267.5 L509.5,267.5 L510.5,267.5 L511.5,267.5 L512.5,267.5 L513.5,267.5 L514.5,267.5 L515.5,267.5" fill="none" stroke="#6e8890" stroke-width="1.5" stroke-linejoin="round"/>
<path d="M295.5,120.0 L296.5,122.3 L297.5,124.6 L298.5,127.0 L299.5,129.4 L300.5,131.9 L301.5,134.4 L302.5,137.0 L303.5,139.5 L304.5,142.2 L305.5,144.8 L306.5,147.5 L307.5,150.2 L308.5,153.0 L309.5,155.7 L310.5,158.5 L311.5,161.3 L312.5,164.0 L313.5,166.8 L314.5,169.6 L315.5,172.3 L316.5,175.1 L317.5,177.8 L318.5,180.5 L319.5,183.2 L320.5,185.8 L321.5,188.5 L322.5,191.1 L323.5,193.7 L324.5,196.2 L325.5,198.7 L326.5,201.2 L327.5,203.6 L328.5,206.0 L329.5,208.4 L330.5,210.7 L331.5,213.0 L332.5,215.2 L333.5,217.4 L334.5,219.6 L335.5,221.7 L336.5,223.8 L337.5,225.8 L338.5,227.8 L339.5,229.7 L340.5,231.5 L341.5,233.3 L342.5,235.0 L343.5,236.7 L344.5,238.3 L345.5,239.8 L346.5,241.3 L347.5,242.8 L348.5,244.2 L349.5,245.5 L350.5,246.8 L351.5,248.1 L352.5,249.3 L353.5,250.5 L354.5,251.7 L355.5,252.9 L356.5,254.0 L357.5,255.2 L358.5,256.2 L359.5,257.3 L360.5,258.3 L361.5,259.3 L362.5,260.3 L363.5,261.3 L364.5,262.2 L365.5,263.1 L366.5,263.9 L367.5,264.7 L368.5,265.5 L369.5,266.2 L370.5,267.0 L371.5,267.6 L372.5,268.3 L373.5,268.9 L374.5,269.6 L375.5,270.1 L376.5,270.7 L377.5,271.2 L378.5,271.8 L379.5,272.3 L380.5,272.7 L381.5,273.2 L382.5,273.7 L383.5,274.1 L384.5,274.5 L385.5,274.9 L386.5,275.3 L387.5,275.7 L388.5,276.1 L389.5,276.5 L390.5,276.8 L391.5,277.1 L392.5,277.5 L393.5,277.8 L394.5,278.0 L395.5,278.3 L396.5,278.6 L397.5,278.8 L398.5,279.1 L399.5,279.3 L400.5,279.6 L401.5,279.8 L402.5,280.0 L403.5,280.2 L404.5,280.4 L405.5,280.6 L406.5,280.8 L407.5,281.0 L408.5,281.1 L409.5,281.3 L410.5,281.5 L411.5,281.6 L412.5,281.7 L413.5,281.9 L414.5,282.0 L415.5,282.1 L416.5,282.2 L417.5,282.3 L418.5,282.4 L419.5,282.5 L420.5,282.6 L421.5,282.7 L422.5,282.8 L423.5,282.8 L424.5,282.9 L425.5,282.9 L426.5,283.0 L427.5,283.0 L428.5,283.0 L429.5,283.1 L430.5,283.1 L431.5,283.1 L432.5,283.2 L433.5,283.2 L434.5,283.2 L435.5,283.3 L436.5,283.3 L437.5,283.4 L438.5,283.4 L439.5,283.5 L440.5,283.5 L441.5,283.5 L442.5,283.5 L443.5,283.6 L444.5,283.6 L445.5,283.6 L446.5,283.6 L447.5,283.6 L448.5,283.6 L449.5,283.6 L450.5,283.6 L451.5,283.7 L452.5,283.7 L453.5,283.7 L454.5,283.7 L455.5,283.7 L456.5,283.7 L457.5,283.7 L458.5,283.8 L459.5,283.8 L460.5,283.8 L461.5,283.8 L462.5,283.8 L463.5,283.9 L464.5,283.9 L465.5,283.9 L466.5,283.9 L467.5,284.0 L468.5,284.0 L469.5,284.0 L470.5,284.0 L471.5,284.1 L472.5,284.1 L473.5,284.1 L474.5,284.2 L475.5,284.2 L476.5,284.2 L477.5,284.3 L478.5,284.3 L479.5,284.3 L480.5,284.3 L481.5,284.3 L482.5,284.3 L483.5,284.4 L484.5,284.4 L485.5,284.4 L486.5,284.4 L487.5,284.4 L488.5,284.4 L489.5,284.4 L490.5,284.4 L491.5,284.4 L492.5,284.4 L493.5,284.4 L494.5,284.4 L495.5,284.4 L496.5,284.4 L497.5,284.4 L498.5,284.4 L499.5,284.4 L500.5,284.4 L501.5,284.4 L502.5,284.3 L503.5,284.3 L504.5,284.3 L505.5,284.3 L506.5,284.3 L507.5,284.3 L508.5,284.3 L509.5,284.3 L510.5,284.3 L511.5,284.3 L512.5,284.3 L513.5,284.3 L514.5,284.3 L515.5,284.3" fill="none" stroke="#8a8a50" stroke-width="1.5" stroke-linejoin="round"/>
<path d="M295.5,52.7 L296.5,52.7 L297.5,52.8 L298.5,52.9 L299.5,52.9 L300.5,53.0 L301.5,53.1 L302.5,53.2 L303.5,53.3 L304.5,53.5 L305.5,53.6 L306.5,53.8 L307.5,53.9 L308.5,54.1 L309.5,54.3 L310.5,54.5 L311.5,54.7 L312.5,55.0 L313.5,55.3 L314.5,55.6 L315.5,55.9 L316.5,56.3 L317.5,56.7 L318.5,57.2 L319.5,57.8 L320.5,58.4 L321.5,59.0 L322.5,59.7 L323.5,60.5 L324.5,61.4 L325.5,62.3 L326.5,63.4 L327.5,64.5 L328.5,65.7 L329.5,67.1 L330.5,68.5 L331.5,70.1 L332.5,71.8 L333.5,73.6 L334.5,75.6 L335.5,77.7 L336.5,80.0 L337.5,82.5 L338.5,85.1 L339.5,88.0 L340.5,91.0 L341.5,94.3 L342.5,97.7 L343.5,101.3 L344.5,105.2 L345.5,109.2 L346.5,113.3 L347.5,117.7 L348.5,122.2 L349.5,126.8 L350.5,131.6 L351.5,136.5 L352.5,141.5 L353.5,146.5 L354.5,151.6 L355.5,156.7 L356.5,161.9 L357.5,167.0 L358.5,172.1 L359.5,177.1 L360.5,182.0 L361.5,186.9 L362.5,191.7 L363.5,196.3 L364.5,200.9 L365.5,205.3 L366.5,209.5 L367.5,213.6 L368.5,217.5 L369.5,221.2 L370.5,224.8 L371.5,228.2 L372.5,231.5 L373.5,234.6 L374.5,237.5 L375.5,240.3 L376.5,242.9 L377.5,245.4 L378.5,247.7 L379.5,249.8 L380.5,251.9 L381.5,253.7 L382.5,255.5 L383.5,257.1 L384.5,258.6 L385.5,259.9 L386.5,261.2 L387.5,262.3 L388.5,263.3 L389.5,264.3 L390.5,265.1 L391.5,265.9 L392.5,266.7 L393.5,267.3 L394.5,267.9 L395.5,268.5 L396.5,269.0 L397.5,269.4 L398.5,269.9 L399.5,270.2 L400.5,270.6 L401.5,270.9 L402.5,271.3 L403.5,271.5 L404.5,271.8 L405.5,272.0 L406.5,272.2 L407.5,272.4 L408.5,272.6 L409.5,272.8 L410.5,272.9 L411.5,273.1 L412.5,273.2 L413.5,273.3 L414.5,273.4 L415.5,273.5 L416.5,273.5 L417.5,273.6 L418.5,273.7 L419.5,273.7 L420.5,273.8 L421.5,273.9 L422.5,273.9 L423.5,274.0 L424.5,274.0 L425.5,274.1 L426.5,274.1 L427.5,274.1 L428.5,274.2 L429.5,274.2 L430.5,274.2 L431.5,274.2 L432.5,274.3 L433.5,274.3 L434.5,274.3 L435.5,274.3 L436.5,274.3 L437.5,274.3 L438.5,274.3 L439.5,274.3 L440.5,274.3 L441.5,274.3 L442.5,274.3 L443.5,274.3 L444.5,274.3 L445.5,274.2 L446.5,274.2 L447.5,274.1 L448.5,274.1 L449.5,274.0 L450.5,274.0 L451.5,274.0 L452.5,274.0 L453.5,273.9 L454.5,273.9 L455.5,273.9 L456.5,273.9 L457.5,273.9 L458.5,273.9 L459.5,273.9 L460.5,273.9 L461.5,273.9 L462.5,273.9 L463.5,273.9 L464.5,273.9 L465.5,273.9 L466.5,274.0 L467.5,274.0 L468.5,274.0 L469.5,274.1 L470.5,274.1 L471.5,274.1 L472.5,274.2 L473.5,274.2 L474.5,274.3 L475.5,274.3 L476.5,274.4 L477.5,274.4 L478.5,274.4 L479.5,274.5 L480.5,274.5 L481.5,274.5 L482.5,274.5 L483.5,274.5 L484.5,274.5 L485.5,274.5 L486.5,274.5 L487.5,274.5 L488.5,274.5 L489.5,274.5 L490.5,274.5 L491.5,274.5 L492.5,274.5 L493.5,274.5 L494.5,274.5 L495.5,274.5 L496.5,274.5 L497.5,274.5 L498.5,274.5 L499.5,274.5 L500.5,274.5 L501.5,274.5 L502.5,274.5 L503.5,274.5 L504.5,274.5 L505.5,274.5 L506.5,274.4 L507.5,274.4 L508.5,274.4 L509.5,274.4 L510.5,274.4 L511.5,274.4 L512.5,274.4 L513.5,274.4 L514.5,274.4 L515.5,274.4" fill="none" stroke="#40a0d8" stroke-width="1.5" stroke-linejoin="round"/>
<path d="M295.5,52.7 L296.5,52.8 L297.5,52.9 L298.5,52.9 L299.5,53.0 L300.5,53.1 L301.5,53.2 L302.5,53.3 L303.5,53.4 L304.5,53.6 L305.5,53.7 L306.5,53.9 L307.5,54.0 L308.5,54.2 L309.5,54.4 L310.5,54.6 L311.5,54.8 L312.5,55.1 L313.5,55.3 L314.5,55.6 L315.5,55.9 L316.5,56.2 L317.5,56.5 L318.5,56.8 L319.5,57.2 L320.5,57.6 L321.5,58.0 L322.5,58.5 L323.5,59.0 L324.5,59.5 L325.5,60.1 L326.5,60.7 L327.5,61.3 L328.5,62.0 L329.5,62.7 L330.5,63.5 L331.5,64.3 L332.5,65.2 L333.5,66.1 L334.5,67.1 L335.5,68.1 L336.5,69.3 L337.5,70.5 L338.5,71.8 L339.5,73.2 L340.5,74.7 L341.5,76.3 L342.5,78.0 L343.5,79.9 L344.5,81.9 L345.5,84.1 L346.5,86.5 L347.5,89.0 L348.5,91.7 L349.5,94.6 L350.5,97.6 L351.5,100.8 L352.5,104.1 L353.5,107.7 L354.5,111.4 L355.5,115.3 L356.5,119.3 L357.5,123.5 L358.5,127.9 L359.5,132.5 L360.5,137.1 L361.5,141.9 L362.5,146.9 L363.5,151.9 L364.5,157.0 L365.5,162.1 L366.5,167.3 L367.5,172.4 L368.5,177.6 L369.5,182.6 L370.5,187.6 L371.5,192.5 L372.5,197.3 L373.5,201.9 L374.5,206.3 L375.5,210.6 L376.5,214.6 L377.5,218.5 L378.5,222.1 L379.5,225.4 L380.5,228.6 L381.5,231.5 L382.5,234.2 L383.5,236.7 L384.5,238.9 L385.5,240.9 L386.5,242.8 L387.5,244.4 L388.5,246.0 L389.5,247.3 L390.5,248.6 L391.5,249.7 L392.5,250.8 L393.5,251.7 L394.5,252.6 L395.5,253.4 L396.5,254.1 L397.5,254.7 L398.5,255.3 L399.5,255.9 L400.5,256.3 L401.5,256.8 L402.5,257.2 L403.5,257.5 L404.5,257.9 L405.5,258.2 L406.5,258.5 L407.5,258.8 L408.5,259.0 L409.5,259.3 L410.5,259.5 L411.5,259.8 L412.5,260.0 L413.5,260.2 L414.5,260.5 L415.5,260.7 L416.5,260.9 L417.5,261.0 L418.5,261.2 L419.5,261.3 L420.5,261.4 L421.5,261.5 L422.5,261.5 L423.5,261.6 L424.5,261.6 L425.5,261.7 L426.5,261.7 L427.5,261.7 L428.5,261.7 L429.5,261.8 L430.5,261.8 L431.5,261.8 L432.5,261.8 L433.5,261.8 L434.5,261.8 L435.5,261.9 L436.5,261.9 L437.5,261.9 L438.5,261.9 L439.5,261.9 L440.5,262.0 L441.5,262.0 L442.5,262.0 L443.5,262.1 L444.5,262.1 L445.5,262.2 L446.5,262.2 L447.5,262.3 L448.5,262.4 L449.5,262.4 L450.5,262.5 L451.5,262.5 L452.5,262.6 L453.5,262.6 L454.5,262.6 L455.5,262.6 L456.5,262.7 L457.5,262.7 L458.5,262.7 L459.5,262.7 L460.5,262.7 L461.5,262.7 L462.5,262.7 L463.5,262.7 L464.5,262.6 L465.5,262.6 L466.5,262.6 L467.5,262.6 L468.5,262.5 L469.5,262.5 L470.5,262.4 L471.5,262.4 L472.5,262.3 L473.5,262.3 L474.5,262.2 L475.5,262.2 L476.5,262.1 L477.5,262.1 L478.5,262.0 L479.5,262.0 L480.5,262.0 L481.5,262.0 L482.5,262.0 L483.5,262.0 L484.5,262.0 L485.5,262.0 L486.5,262.0 L487.5,261.9 L488.5,262.0 L489.5,262.0 L490.5,262.0 L491.5,262.0 L492.5,262.0 L493.5,262.0 L494.5,262.0 L495.5,262.0 L496.5,262.0 L497.5,262.1 L498.5,262.1 L499.5,262.1 L500.5,262.2 L501.5,262.2 L502.5,262.3 L503.5,262.3 L504.5,262.4 L505.5,262.4 L506.5,262.5 L507.5,262.5 L508.5,262.5 L509.5,262.6 L510.5,262.6 L511.5,262.6 L512.5,262.6 L513.5,262.6 L514.5,262.6 L515.5,262.6" fill="none" stroke="#e878a8" stroke-width="1.5" stroke-linejoin="round"/>
<path d="M295.5,52.7 L296.5,52.7 L297.5,52.8 L298.5,52.8 L299.5,52.9 L300.5,53.0 L301.5,53.0 L302.5,53.1 L303.5,53.2 L304.5,53.3 L305.5,53.4 L306.5,53.4 L307.5,53.5 L308.5,53.6 L309.5,53.7 L310.5,53.7 L311.5,53.8 L312.5,53.9 L313.5,54.0 L314.5,54.2 L315.5,54.3 L316.5,54.5 L317.5,54.6 L318.5,54.9 L319.5,55.1 L320.5,55.4 L321.5,55.6 L322.5,56.0 L323.5,56.3 L324.5,56.7 L325.5,57.2 L326.5,57.6 L327.5,58.2 L328.5,58.8 L329.5,59.4 L330.5,60.1 L331.5,60.9 L332.5,61.6 L333.5,62.4 L334.5,63.3 L335.5,64.1 L336.5,65.0 L337.5,66.0 L338.5,67.0 L339.5,68.0 L340.5,69.1 L341.5,70.3 L342.5,71.5 L343.5,72.9 L344.5,74.3 L345.5,75.8 L346.5,77.4 L347.5,79.1 L348.5,81.0 L349.5,82.9 L350.5,85.0 L351.5,87.2 L352.5,89.6 L353.5,92.0 L354.5,94.6 L355.5,97.4 L356.5,100.3 L357.5,103.3 L358.5,106.5 L359.5,109.8 L360.5,113.3 L361.5,116.9 L362.5,120.7 L363.5,124.6 L364.5,128.7 L365.5,133.0 L366.5,137.3 L367.5,141.9 L368.5,146.5 L369.5,151.3 L370.5,156.1 L371.5,161.0 L372.5,166.0 L373.5,171.1 L374.5,176.1 L375.5,181.1 L376.5,186.2 L377.5,191.1 L378.5,196.0 L379.5,200.7 L380.5,205.4 L381.5,209.9 L382.5,214.2 L383.5,218.3 L384.5,222.2 L385.5,225.9 L386.5,229.4 L387.5,232.8 L388.5,235.9 L389.5,238.8 L390.5,241.5 L391.5,244.0 L392.5,246.4 L393.5,248.6 L394.5,250.7 L395.5,252.7 L396.5,254.6 L397.5,256.3 L398.5,258.0 L399.5,259.5 L400.5,261.0 L401.5,262.4 L402.5,263.8 L403.5,265.0 L404.5,266.2 L405.5,267.3 L406.5,268.3 L407.5,269.3 L408.5,270.1 L409.5,270.9 L410.5,271.7 L411.5,272.4 L412.5,273.0 L413.5,273.6 L414.5,274.1 L415.5,274.6 L416.5,275.0 L417.5,275.4 L418.5,275.7 L419.5,276.1 L420.5,276.3 L421.5,276.6 L422.5,276.8 L423.5,277.1 L424.5,277.2 L425.5,277.4 L426.5,277.6 L427.5,277.7 L428.5,277.9 L429.5,278.0 L430.5,278.1 L431.5,278.2 L432.5,278.3 L433.5,278.4 L434.5,278.5 L435.5,278.6 L436.5,278.6 L437.5,278.7 L438.5,278.8 L439.5,278.9 L440.5,279.0 L441.5,279.0 L442.5,279.1 L443.5,279.2 L444.5,279.3 L445.5,279.4 L446.5,279.5 L447.5,279.6 L448.5,279.7 L449.5,279.8 L450.5,279.8 L451.5,279.9 L452.5,279.9 L453.5,279.9 L454.5,280.0 L455.5,280.0 L456.5,280.0 L457.5,280.0 L458.5,280.0 L459.5,280.1 L460.5,280.1 L461.5,280.1 L462.5,280.1 L463.5,280.1 L464.5,280.1 L465.5,280.1 L466.5,280.0 L467.5,280.0 L468.5,280.0 L469.5,280.0 L470.5,280.0 L471.5,279.9 L472.5,279.9 L473.5,279.9 L474.5,279.8 L475.5,279.8 L476.5,279.8 L477.5,279.7 L478.5,279.7 L479.5,279.7 L480.5,279.7 L481.5,279.7 L482.5,279.7 L483.5,279.7 L484.5,279.7 L485.5,279.7 L486.5,279.7 L487.5,279.7 L488.5,279.7 L489.5,279.7 L490.5,279.7 L491.5,279.7 L492.5,279.7 L493.5,279.7 L494.5,279.8 L495.5,279.8 L496.5,279.8 L497.5,279.9 L498.5,280.0 L499.5,280.1 L500.5,280.2 L501.5,280.3 L502.5,280.4 L503.5,280.5 L504.5,280.6 L505.5,280.7 L506.5,280.8 L507.5,280.9 L508.5,280.9 L509.5,281.0 L510.5,281.0 L511.5,281.0 L512.5,281.1 L513.5,281.1 L514.5,281.1 L515.5,281.1" fill="none" stroke="#44dc44" stroke-width="1.5" stroke-linejoin="round"/>
<path d="M295.5,52.2 L296.5,52.2 L297.5,52.2 L298.5,52.3 L299.5,52.3 L300.5,52.3 L301.5,52.4 L302.5,52.4 L303.5,52.5 L304.5,52.6 L305.5,52.6 L306.5,52.7 L307.5,52.8 L308.5,52.9 L309.5,53.0 L310.5,53.2 L311.5,53.3 L312.5,53.5 L313.5,53.7 L314.5,53.9 L315.5,54.1 L316.5,54.4 L317.5,54.7 L318.5,55.0 L319.5,55.4 L320.5,55.9 L321.5,56.4 L322.5,57.0 L323.5,57.7 L324.5,58.6 L325.5,59.5 L326.5,60.5 L327.5,61.6 L328.5,62.8 L329.5,64.2 L330.5,65.6 L331.5,67.1 L332.5,68.7 L333.5,70.4 L334.5,72.2 L335.5,74.0 L336.5,76.0 L337.5,78.0 L338.5,80.2 L339.5,82.4 L340.5,84.8 L341.5,87.3 L342.5,89.9 L343.5,92.6 L344.5,95.5 L345.5,98.5 L346.5,101.6 L347.5,104.8 L348.5,108.2 L349.5,111.6 L350.5,115.2 L351.5,118.8 L352.5,122.6 L353.5,126.4 L354.5,130.2 L355.5,134.1 L356.5,138.0 L357.5,142.0 L358.5,146.0 L359.5,149.9 L360.5,153.9 L361.5,157.8 L362.5,161.7 L363.5,165.6 L364.5,169.4 L365.5,173.2 L366.5,176.9 L367.5,180.6 L368.5,184.2 L369.5,187.7 L370.5,191.1 L371.5,194.5 L372.5,197.7 L373.5,200.9 L374.5,204.0 L375.5,206.9 L376.5,209.8 L377.5,212.5 L378.5,215.0 L379.5,217.5 L380.5,219.7 L381.5,221.9 L382.5,223.8 L383.5,225.6 L384.5,227.2 L385.5,228.7 L386.5,230.0 L387.5,231.2 L388.5,232.4 L389.5,233.4 L390.5,234.3 L391.5,235.2 L392.5,236.0 L393.5,236.8 L394.5,237.5 L395.5,238.2 L396.5,238.8 L397.5,239.4 L398.5,239.9 L399.5,240.4 L400.5,240.9 L401.5,241.3 L402.5,241.7 L403.5,242.1 L404.5,242.4 L405.5,242.8 L406.5,243.0 L407.5,243.3 L408.5,243.6 L409.5,243.8 L410.5,244.0 L411.5,244.2 L412.5,244.4 L413.5,244.6 L414.5,244.8 L415.5,245.0 L416.5,245.1 L417.5,245.3 L418.5,245.4 L419.5,245.6 L420.5,245.7 L421.5,245.8 L422.5,246.0 L423.5,246.1 L424.5,246.2 L425.5,246.2 L426.5,246.3 L427.5,246.4 L428.5,246.5 L429.5,246.5 L430.5,246.6 L431.5,246.6 L432.5,246.7 L433.5,246.7 L434.5,246.8 L435.5,246.8 L436.5,246.9 L437.5,246.9 L438.5,246.9 L439.5,247.0 L440.5,247.0 L441.5,247.0 L442.5,247.0 L443.5,247.0 L444.5,247.0 L445.5,247.0 L446.5,246.9 L447.5,246.9 L448.5,246.9 L449.5,246.8 L450.5,246.8 L451.5,246.8 L452.5,246.8 L453.5,246.8 L454.5,246.8 L455.5,246.8 L456.5,246.8 L457.5,246.7 L458.5,246.7 L459.5,246.8 L460.5,246.8 L461.5,246.8 L462.5,246.8 L463.5,246.8 L464.5,246.8 L465.5,246.8 L466.5,246.8 L467.5,246.9 L468.5,246.9 L469.5,246.9 L470.5,247.0 L471.5,247.0 L472.5,247.0 L473.5,247.1 L474.5,247.1 L475.5,247.2 L476.5,247.2 L477.5,247.2 L478.5,247.3 L479.5,247.3 L480.5,247.3 L481.5,247.3 L482.5,247.3 L483.5,247.3 L484.5,247.3 L485.5,247.3 L486.5,247.3 L487.5,247.3 L488.5,247.3 L489.5,247.3 L490.5,247.3 L491.5,247.3 L492.5,247.3 L493.5,247.3 L494.5,247.3 L495.5,247.3 L496.5,247.3 L497.5,247.3 L498.5,247.2 L499.5,247.2 L500.5,247.2 L501.5,247.1 L502.5,247.1 L503.5,247.1 L504.5,247.1 L505.5,247.0 L506.5,247.0 L507.5,247.0 L508.5,247.0 L509.5,247.0 L510.5,246.9 L511.5,246.9 L512.5,246.9 L513.5,246.9 L514.5,246.9 L515.5,246.9" fill="none" stroke="#9068b0" stroke-width="1.5" stroke-linejoin="round"/>
</g>
<g transform="translate(27.5,0) rotate(-90)" font-size="19.3" fill="#111"><text x="-259" y="0">%</text><text x="-241.6" y="0" textLength="68.2" lengthAdjust="spacingAndGlyphs">Survival</text><text x="-169.8" y="0" textLength="76.6" lengthAdjust="spacingAndGlyphs">CLL Cells</text></g>
<text x="205.0" y="341.4" font-size="16.5" fill="#111" textLength="121.2" lengthAdjust="spacingAndGlyphs">[Idelalisib] μM</text>
</svg></body></html>
